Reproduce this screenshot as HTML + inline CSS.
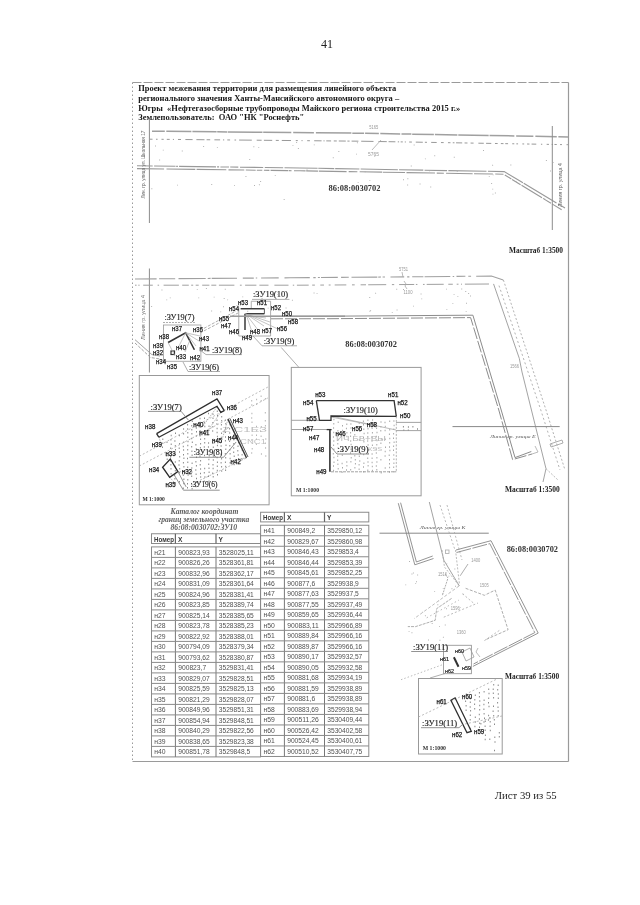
<!DOCTYPE html>
<html><head><meta charset="utf-8"><style>
html,body{margin:0;padding:0;background:#fff;}
body{width:640px;height:905px;overflow:hidden;position:relative;}
svg{position:absolute;left:0;top:0;will-change:transform;}
</style></head><body>
<svg width="640" height="905" viewBox="0 0 640 905">
<rect x="0" y="0" width="640" height="905" fill="#fff"/>
<text x="327" y="48" font-family="Liberation Serif" font-size="12" font-weight="normal" font-style="normal" fill="#222" text-anchor="middle" xml:space="preserve" >41</text>
<text x="494.8" y="799.3" font-family="Liberation Serif" font-size="11" font-weight="normal" font-style="normal" fill="#222" text-anchor="start" textLength="61.8" lengthAdjust="spacingAndGlyphs" xml:space="preserve" >Лист 39 из 55</text>
<line x1="132.5" y1="82.5" x2="568.5" y2="82.5" stroke="#9a9a9a" stroke-width="1" stroke-dasharray="9,2" />
<line x1="132.5" y1="82.5" x2="132.5" y2="761.5" stroke="#9a9a9a" stroke-width="1" stroke-dasharray="1.5,2.5" />
<line x1="568.5" y1="82.5" x2="568.5" y2="761.5" stroke="#9a9a9a" stroke-width="1.2" />
<line x1="132.5" y1="761.5" x2="568.5" y2="761.5" stroke="#9a9a9a" stroke-width="1.2" />
<text x="138.2" y="91.4" font-family="Liberation Serif" font-size="9" font-weight="bold" font-style="normal" fill="#161616" text-anchor="start" textLength="258" lengthAdjust="spacingAndGlyphs" xml:space="preserve" >Проект межевания территории для размещения линейного объекта</text>
<text x="138.2" y="101.0" font-family="Liberation Serif" font-size="9" font-weight="bold" font-style="normal" fill="#161616" text-anchor="start" textLength="261" lengthAdjust="spacingAndGlyphs" xml:space="preserve" >регионального значения Ханты-Мансийского автономного округа –</text>
<text x="138.2" y="110.6" font-family="Liberation Serif" font-size="9" font-weight="bold" font-style="normal" fill="#161616" text-anchor="start" textLength="322" lengthAdjust="spacingAndGlyphs" xml:space="preserve" >Югры  «Нефтегазосборные трубопроводы Майского региона строительства 2015 г.»</text>
<text x="138.2" y="120.2" font-family="Liberation Serif" font-size="9" font-weight="bold" font-style="normal" fill="#161616" text-anchor="start" textLength="166" lengthAdjust="spacingAndGlyphs" xml:space="preserve" >Землепользователь:  ОАО &quot;НК &quot;Роснефть&quot;</text>
<line x1="149.4" y1="119" x2="149.4" y2="223" stroke="#8c8c8c" stroke-width="1" />
<polyline points="152.00,131.20 360.00,133.20 568.00,136.90" fill="none" stroke="#a0a0a0" stroke-width="1.5" stroke-dasharray="12.8,1.5,25.1,1.0,24.2,0.6,10.2,0.6,34.5,0.7,28.1,1.9,20.7,2.0,35.5,0.9,11.8,1.0,13.8,1.4,19.9,1.3,9.9,0.8,21.7,1.0,22.5,0.9,30.4,0.9,24.8,1.8,17.2,2.0,21.4,1.6,23.6,0.6" stroke-linejoin="miter" />
<polyline points="150.00,139.20 360.00,141.20 568.00,144.70" fill="none" stroke="#999" stroke-width="1" stroke-dasharray="2.5,3.5,1.6,3.9,2.2,3.1,2.9,3.2,1.1,4.0,3.0,4.4,7.2,3.8,8.1,2.1,3.6,4.2,5.7,2.9,1.2,3.1,2.8,4.4,1.6,3.0,12.7,4.9,4.9,2.3,8.3,3.6,3.0,3.0,9.2,4.8,2.0,3.7,1.1,4.6,2.7,4.3,7.4,1.9,1.1,1.7,4.8,2.7,3.0,2.0,7.0,1.6,2.2,2.0,6.8,2.8,12.3,5.0,8.3,1.8,6.8,2.4,1.3,1.6,2.1,2.0,1.1,3.3,2.7,3.9,7.0,2.1,2.1,4.2,5.5,4.3,2.7,4.3,2.5,2.3,1.7,1.6,6.1,2.4,2.9,3.1,3.0,4.8,5.4,2.3,5.2,3.7,2.7,3.2,2.6,1.8,2.8,4.2,2.0,2.1,1.7,4.3,1.8,2.9,2.4,2.1,4.7,4.7,1.3,4.4,2.3,2.7,1.3,1.5,2.3,3.3,1.9,4.6,1.4,2.4" stroke-linejoin="miter" />
<polyline points="137.00,165.80 300.00,168.00 504.20,171.60 565.00,208.00" fill="none" stroke="#999" stroke-width="1.1" stroke-dasharray="15.7,1.4,21.4,0.7,1.7,1.2,36.9,1.1,2.0,1.3,8.6,1.2,8.1,1.7,23.2,1.6,18.4,1.3,33.1,0.7,16.0,0.9,24.2,1.3,37.2,1.2,24.2,1.3,22.5,1.3,38.1,1.5,38.1,0.9,38.2,1.8,11.9,1.2,15.7,0.6,33.1,1.8,30.9,1.5" stroke-linejoin="miter" />
<polyline points="137.00,168.60 300.00,170.80 503.50,174.20 562.00,210.00" fill="none" stroke="#999" stroke-width="1.1" stroke-dasharray="27.1,2.4,28.8,1.3,29.7,2.2,15.8,1.5,9.9,1.1,5.5,1.6,5.5,1.2,17.8,0.6,2.6,2.4,11.6,0.6,11.8,0.8,27.8,2.1,8.7,2.3,22.5,0.7,22.2,1.4,28.5,1.8,7.1,2.2,26.6,1.4,18.8,2.4,8.2,1.6,7.7,0.8,10.0,1.1,24.0,1.1,9.4,1.2,11.3,0.5,18.8,0.9,28.4,0.7,15.8,1.5" stroke-linejoin="miter" />
<line x1="552.3" y1="126" x2="552.3" y2="230" stroke="#8c8c8c" stroke-width="1" />
<text x="0" y="0" font-family="Liberation Sans" font-size="5" font-weight="normal" font-style="normal" fill="#6a6a6a" text-anchor="start" textLength="68" lengthAdjust="spacingAndGlyphs" xml:space="preserve" transform="translate(145,198.6) rotate(-90)">Лин. гр. улица ул. Школьная 17</text>
<text x="0" y="0" font-family="Liberation Sans" font-size="5" font-weight="normal" font-style="normal" fill="#6a6a6a" text-anchor="start" textLength="44" lengthAdjust="spacingAndGlyphs" xml:space="preserve" transform="translate(561.5,207) rotate(-90)">Линия гр. улица 4</text>
<text x="369.3" y="128.5" font-family="Liberation Sans" font-size="5" font-weight="normal" font-style="normal" fill="#999" text-anchor="start" textLength="9" lengthAdjust="spacingAndGlyphs" xml:space="preserve" >5165</text>
<text x="368" y="156" font-family="Liberation Sans" font-size="5" font-weight="normal" font-style="normal" fill="#999" text-anchor="start" textLength="11" lengthAdjust="spacingAndGlyphs" xml:space="preserve" >5765</text>
<line x1="372" y1="150" x2="381" y2="140" stroke="#aaa" stroke-width="0.8" />
<text x="328.5" y="191" font-family="Liberation Serif" font-size="8.5" font-weight="bold" font-style="normal" fill="#333" text-anchor="start" textLength="52" lengthAdjust="spacingAndGlyphs" xml:space="preserve" >86:08:0030702</text>
<text x="509" y="252.9" font-family="Liberation Serif" font-size="8" font-weight="bold" font-style="normal" fill="#222" text-anchor="start" textLength="54" lengthAdjust="spacingAndGlyphs" xml:space="preserve" >Масштаб 1:3500</text>
<path d="M492.2 164.8h0.9v0.9h-0.9z M357.7 181.9h0.9v0.9h-0.9z M552.8 161.9h0.9v0.9h-0.9z M491.2 183.0h0.9v0.9h-0.9z M410.8 165.5h0.9v0.9h-0.9z M292.5 145.2h0.9v0.9h-0.9z M203.2 146.1h0.9v0.9h-0.9z M453.8 156.8h0.9v0.9h-0.9z M216.9 146.9h0.9v0.9h-0.9z M494.9 192.5h0.9v0.9h-0.9z M424.9 158.4h0.9v0.9h-0.9z M249.3 159.0h0.9v0.9h-0.9z M338.4 151.1h0.9v0.9h-0.9z M332.8 157.3h0.9v0.9h-0.9z M544.3 198.4h0.9v0.9h-0.9z M374.3 156.2h0.9v0.9h-0.9z M545.9 160.0h0.9v0.9h-0.9z M296.2 142.1h0.9v0.9h-0.9z M306.5 169.5h0.9v0.9h-0.9z M356.1 153.7h0.9v0.9h-0.9z M356.9 142.3h0.9v0.9h-0.9z M258.3 147.2h0.9v0.9h-0.9z M313.8 144.4h0.9v0.9h-0.9z M159.2 159.6h0.9v0.9h-0.9z M245.5 176.0h0.9v0.9h-0.9z M367.0 185.5h0.9v0.9h-0.9z M419.6 183.5h0.9v0.9h-0.9z M510.4 164.6h0.9v0.9h-0.9z M283.7 199.1h0.9v0.9h-0.9z M211.3 184.0h0.9v0.9h-0.9z M413.7 144.5h0.9v0.9h-0.9z M492.5 193.7h0.9v0.9h-0.9z M407.2 184.6h0.9v0.9h-0.9z M483.0 150.1h0.9v0.9h-0.9z M364.7 171.3h0.9v0.9h-0.9z M492.3 188.7h0.9v0.9h-0.9z M488.8 175.9h0.9v0.9h-0.9z M516.1 181.6h0.9v0.9h-0.9z M434.3 155.3h0.9v0.9h-0.9z M162.8 149.7h0.9v0.9h-0.9z M297.9 148.1h0.9v0.9h-0.9z M492.7 174.4h0.9v0.9h-0.9z M407.4 178.3h0.9v0.9h-0.9z M429.1 170.4h0.9v0.9h-0.9z M151.4 188.3h0.9v0.9h-0.9z M456.8 171.2h0.9v0.9h-0.9z M369.4 180.2h0.9v0.9h-0.9z M177.1 184.7h0.9v0.9h-0.9z M253.4 146.3h0.9v0.9h-0.9z M258.9 184.3h0.9v0.9h-0.9z M234.1 184.9h0.9v0.9h-0.9z M550.1 170.6h0.9v0.9h-0.9z M306.8 169.8h0.9v0.9h-0.9z M430.3 186.5h0.9v0.9h-0.9z M403.0 179.3h0.9v0.9h-0.9z M181.8 150.6h0.9v0.9h-0.9z M254.1 185.1h0.9v0.9h-0.9z M274.8 174.9h0.9v0.9h-0.9z M155.1 145.5h0.9v0.9h-0.9z M260.2 181.0h0.9v0.9h-0.9z" fill="#aaa"/>
<line x1="149.4" y1="268.5" x2="149.4" y2="372.5" stroke="#8c8c8c" stroke-width="1" />
<polyline points="135.00,279.00 290.00,277.80 450.00,276.50 491.40,276.00 503.40,280.00" fill="none" stroke="#a0a0a0" stroke-width="1.1" stroke-dasharray="21.6,2.5,16.1,3.3,27.2,2.0,2.9,1.1,25.3,5.8,11.0,2.0,1.4,3.9,17.6,5.8,25.3,3.5,2.4,2.2,2.0,1.1,16.8,3.3,7.7,2.7,25.8,1.0,2.7,1.6,2.4,5.5,13.7,3.0,2.2,2.8,11.2,1.2,25.7,2.4,1.5,2.3,8.9,2.9,2.8,5.1,27.7,5.7,22.7,1.2,1.9,4.8" stroke-linejoin="miter" />
<polyline points="503.40,280.00 546.00,410.00 565.00,470.00" fill="none" stroke="#aaa" stroke-width="0.9" stroke-dasharray="2,2" stroke-linejoin="miter" />
<polyline points="135.00,285.20 300.00,285.20 490.00,284.00 493.60,284.00" fill="none" stroke="#a0a0a0" stroke-width="1" stroke-dasharray="1.6,1.7,1.3,3.6,9.6,4.8,1.5,4.5,15.3,3.3,6.6,2.4,2.0,2.5,3.0,3.5,7.2,1.9,5.0,2.6,15.5,5.5,1.8,3.4,11.3,3.0,9.1,5.9,14.1,4.3,1.4,2.7,11.8,3.5,2.7,5.4,3.7,4.7,1.9,4.1,11.6,5.7,2.7,5.9,5.4,2.2,18.0,5.7,2.3,4.9,15.1,1.7,1.5,5.6,1.6,2.1,17.0,4.6,4.5,3.9,1.8,2.5,1.0,2.9,24.1,4.4,2.0,2.6,24.1,4.7,3.5,3.7,1.8,2.7" stroke-linejoin="miter" />
<polyline points="493.60,284.00 519.30,358.40 522.00,372.00 546.00,468.70 543.00,482.00" fill="none" stroke="#999" stroke-width="0.9" stroke-linejoin="miter" />
<polyline points="499.00,285.60 540.80,410.00 560.00,470.00" fill="none" stroke="#aaa" stroke-width="0.9" stroke-dasharray="2,2.5" stroke-linejoin="miter" />
<polyline points="271.00,316.30 330.00,316.20 472.90,315.20 501.20,410.00 515.00,457.60 531.30,451.50" fill="none" stroke="#8c8c8c" stroke-width="1" stroke-linejoin="miter" />
<polyline points="271.00,318.80 330.00,318.70 470.60,317.60 498.80,410.00 512.60,459.60 532.00,454.00" fill="none" stroke="#8c8c8c" stroke-width="1" stroke-dasharray="12,2" stroke-linejoin="miter" />
<line x1="452.5" y1="426.6" x2="559.7" y2="426.6" stroke="#888" stroke-width="1" />
<polygon points="550.00,444.00 562.00,440.00 563.00,443.00 551.00,447.00" fill="none" stroke="#999" stroke-width="0.8" stroke-linejoin="miter" />
<polyline points="535.00,446.00 538.00,452.00 532.00,454.00" fill="none" stroke="#aaa" stroke-width="0.8" stroke-linejoin="miter" />
<polyline points="546.00,468.70 558.00,480.00" fill="none" stroke="#aaa" stroke-width="0.8" stroke-dasharray="2,1.5" stroke-linejoin="miter" />
<text x="490" y="438" font-family="Liberation Serif" font-size="5" font-weight="normal" font-style="italic" fill="#555" text-anchor="start" textLength="45.6" lengthAdjust="spacingAndGlyphs" xml:space="preserve" >Линия гр. улицы Е</text>
<text x="510" y="368" font-family="Liberation Sans" font-size="4.5" font-weight="normal" font-style="normal" fill="#999" text-anchor="start" textLength="9" lengthAdjust="spacingAndGlyphs" xml:space="preserve" >1566</text>
<text x="399" y="271" font-family="Liberation Sans" font-size="4.5" font-weight="normal" font-style="normal" fill="#999" text-anchor="start" textLength="9" lengthAdjust="spacingAndGlyphs" xml:space="preserve" >5751</text>
<text x="403.5" y="294" font-family="Liberation Sans" font-size="4.5" font-weight="normal" font-style="normal" fill="#999" text-anchor="start" textLength="9" lengthAdjust="spacingAndGlyphs" xml:space="preserve" >1100</text>
<line x1="402" y1="272" x2="403" y2="277" stroke="#aaa" stroke-width="0.8" />
<polyline points="404.00,281.00 406.00,284.00 405.00,286.00 407.00,289.00" fill="none" stroke="#aaa" stroke-width="0.8" stroke-linejoin="miter" />
<text x="345.3" y="347" font-family="Liberation Serif" font-size="8.5" font-weight="bold" font-style="normal" fill="#333" text-anchor="start" textLength="51.6" lengthAdjust="spacingAndGlyphs" xml:space="preserve" >86:08:0030702</text>
<text x="505" y="492" font-family="Liberation Serif" font-size="8" font-weight="bold" font-style="normal" fill="#222" text-anchor="start" textLength="54.7" lengthAdjust="spacingAndGlyphs" xml:space="preserve" >Масштаб 1:3500</text>
<text x="0" y="0" font-family="Liberation Sans" font-size="5" font-weight="normal" font-style="normal" fill="#6a6a6a" text-anchor="start" textLength="45" lengthAdjust="spacingAndGlyphs" xml:space="preserve" transform="translate(145,340) rotate(-90)">Линия гр. улица 4</text>
<polyline points="135.00,339.70 151.90,354.60 160.00,356.00" fill="none" stroke="#999" stroke-width="0.9" stroke-linejoin="miter" />
<polyline points="135.00,343.00 150.50,357.50 160.00,359.00" fill="none" stroke="#999" stroke-width="0.9" stroke-dasharray="3,1.5" stroke-linejoin="miter" />
<rect x="163.4" y="325" width="37.5" height="36.25" fill="none" stroke="#999" stroke-width="0.8"/>
<text x="164.4" y="320.25" font-family="Liberation Serif" font-size="8.3" font-weight="normal" font-style="normal" fill="#222" text-anchor="start" textLength="30" lengthAdjust="spacingAndGlyphs" stroke="#222" stroke-width="0.15" xml:space="preserve" >:ЗУ19(7)</text>
<line x1="163" y1="322.5" x2="195" y2="322.5" stroke="#999" stroke-width="0.8" stroke-dasharray="2,1" />
<polyline points="168.10,342.50 185.60,332.75 194.40,349.75" fill="none" stroke="#333" stroke-width="1.6" stroke-linejoin="miter" />
<rect x="171" y="351" width="3.5" height="3.5" fill="none" stroke="#333" stroke-width="1.2"/>
<line x1="185.6" y1="332.75" x2="199" y2="341" stroke="#aaa" stroke-width="0.7" />
<line x1="185.6" y1="332.75" x2="200" y2="336" stroke="#aaa" stroke-width="0.7" />
<line x1="185.6" y1="332.75" x2="178" y2="348" stroke="#aaa" stroke-width="0.7" />
<line x1="185.6" y1="332.75" x2="196" y2="346" stroke="#aaa" stroke-width="0.7" />
<line x1="168.1" y1="342.5" x2="175" y2="356" stroke="#aaa" stroke-width="0.7" />
<line x1="190" y1="340" x2="185" y2="352" stroke="#aaa" stroke-width="0.7" />
<text x="172" y="330.5" font-family="Liberation Sans" font-size="6.6" font-weight="normal" font-style="normal" fill="#161616" text-anchor="start" textLength="10" lengthAdjust="spacingAndGlyphs" stroke="#161616" stroke-width="0.25" xml:space="preserve" >н37</text>
<text x="193" y="332" font-family="Liberation Sans" font-size="6.6" font-weight="normal" font-style="normal" fill="#161616" text-anchor="start" textLength="10" lengthAdjust="spacingAndGlyphs" stroke="#161616" stroke-width="0.25" xml:space="preserve" >н36</text>
<text x="159" y="339" font-family="Liberation Sans" font-size="6.6" font-weight="normal" font-style="normal" fill="#161616" text-anchor="start" textLength="10" lengthAdjust="spacingAndGlyphs" stroke="#161616" stroke-width="0.25" xml:space="preserve" >н38</text>
<text x="199" y="341" font-family="Liberation Sans" font-size="6.6" font-weight="normal" font-style="normal" fill="#161616" text-anchor="start" textLength="10" lengthAdjust="spacingAndGlyphs" stroke="#161616" stroke-width="0.25" xml:space="preserve" >н43</text>
<text x="176" y="350" font-family="Liberation Sans" font-size="6.6" font-weight="normal" font-style="normal" fill="#161616" text-anchor="start" textLength="10" lengthAdjust="spacingAndGlyphs" stroke="#161616" stroke-width="0.25" xml:space="preserve" >н40</text>
<text x="199.5" y="351" font-family="Liberation Sans" font-size="6.6" font-weight="normal" font-style="normal" fill="#161616" text-anchor="start" textLength="10" lengthAdjust="spacingAndGlyphs" stroke="#161616" stroke-width="0.25" xml:space="preserve" >н41</text>
<text x="153" y="348" font-family="Liberation Sans" font-size="6.6" font-weight="normal" font-style="normal" fill="#161616" text-anchor="start" textLength="10" lengthAdjust="spacingAndGlyphs" stroke="#161616" stroke-width="0.25" xml:space="preserve" >н39</text>
<text x="153" y="355" font-family="Liberation Sans" font-size="6.6" font-weight="normal" font-style="normal" fill="#161616" text-anchor="start" textLength="10" lengthAdjust="spacingAndGlyphs" stroke="#161616" stroke-width="0.25" xml:space="preserve" >н32</text>
<text x="176" y="359" font-family="Liberation Sans" font-size="6.6" font-weight="normal" font-style="normal" fill="#161616" text-anchor="start" textLength="10" lengthAdjust="spacingAndGlyphs" stroke="#161616" stroke-width="0.25" xml:space="preserve" >н33</text>
<text x="156" y="363.5" font-family="Liberation Sans" font-size="6.6" font-weight="normal" font-style="normal" fill="#161616" text-anchor="start" textLength="10" lengthAdjust="spacingAndGlyphs" stroke="#161616" stroke-width="0.25" xml:space="preserve" >н34</text>
<text x="190" y="359.5" font-family="Liberation Sans" font-size="6.6" font-weight="normal" font-style="normal" fill="#161616" text-anchor="start" textLength="10" lengthAdjust="spacingAndGlyphs" stroke="#161616" stroke-width="0.25" xml:space="preserve" >н42</text>
<text x="167" y="369" font-family="Liberation Sans" font-size="6.6" font-weight="normal" font-style="normal" fill="#161616" text-anchor="start" textLength="10" lengthAdjust="spacingAndGlyphs" stroke="#161616" stroke-width="0.25" xml:space="preserve" >н35</text>
<text x="189" y="370" font-family="Liberation Serif" font-size="8.3" font-weight="normal" font-style="normal" fill="#222" text-anchor="start" textLength="30" lengthAdjust="spacingAndGlyphs" stroke="#222" stroke-width="0.15" xml:space="preserve" >:ЗУ19(6)</text>
<polyline points="183.00,362.00 188.00,371.50 220.00,371.50" fill="none" stroke="#999" stroke-width="0.8" stroke-linejoin="miter" />
<polyline points="200.00,350.00 206.00,354.60 242.00,354.60" fill="none" stroke="#999" stroke-width="0.8" stroke-linejoin="miter" />
<text x="212" y="353" font-family="Liberation Serif" font-size="8.3" font-weight="normal" font-style="normal" fill="#222" text-anchor="start" textLength="30" lengthAdjust="spacingAndGlyphs" stroke="#222" stroke-width="0.15" xml:space="preserve" >:ЗУ19(8)</text>
<text x="253" y="297.1" font-family="Liberation Serif" font-size="8.3" font-weight="normal" font-style="normal" fill="#222" text-anchor="start" textLength="35" lengthAdjust="spacingAndGlyphs" stroke="#222" stroke-width="0.15" xml:space="preserve" >:ЗУ19(10)</text>
<line x1="252" y1="299.4" x2="289.4" y2="299.4" stroke="#999" stroke-width="0.8" />
<polyline points="251.25,301.25 270.60,301.25 270.60,336.00 238.75,336.00 238.75,307.50" fill="none" stroke="#999" stroke-width="0.8" stroke-linejoin="miter" />
<line x1="251.25" y1="301.25" x2="251.25" y2="308" stroke="#999" stroke-width="0.8" />
<line x1="240.6" y1="308.75" x2="264.4" y2="308.75" stroke="#333" stroke-width="1.4" />
<line x1="245.6" y1="313.75" x2="264.4" y2="313.75" stroke="#333" stroke-width="1.4" />
<line x1="264.4" y1="308.75" x2="264.4" y2="313.75" stroke="#333" stroke-width="0.8" />
<line x1="245" y1="313.75" x2="245" y2="330" stroke="#444" stroke-width="1.6" />
<line x1="246" y1="314" x2="264" y2="326" stroke="#aaa" stroke-width="0.7" />
<line x1="246" y1="314" x2="258" y2="330" stroke="#aaa" stroke-width="0.7" />
<line x1="246" y1="314" x2="270" y2="322" stroke="#aaa" stroke-width="0.7" />
<line x1="246" y1="314" x2="252" y2="332" stroke="#aaa" stroke-width="0.7" />
<line x1="250" y1="316" x2="266" y2="318" stroke="#aaa" stroke-width="0.7" />
<line x1="246" y1="314" x2="280" y2="330" stroke="#aaa" stroke-width="0.7" />
<line x1="230" y1="316.25" x2="345" y2="316.25" stroke="#9a9a9a" stroke-width="1.6" />
<polyline points="200.00,333.00 238.00,313.00" fill="none" stroke="#999" stroke-width="0.8" stroke-dasharray="3,1.5" stroke-linejoin="miter" />
<polyline points="200.00,330.50 236.00,311.00" fill="none" stroke="#999" stroke-width="0.8" stroke-dasharray="3,1.5" stroke-linejoin="miter" />
<text x="238" y="305" font-family="Liberation Sans" font-size="6.6" font-weight="normal" font-style="normal" fill="#161616" text-anchor="start" textLength="10" lengthAdjust="spacingAndGlyphs" stroke="#161616" stroke-width="0.25" xml:space="preserve" >н53</text>
<text x="257" y="305" font-family="Liberation Sans" font-size="6.6" font-weight="normal" font-style="normal" fill="#161616" text-anchor="start" textLength="10" lengthAdjust="spacingAndGlyphs" stroke="#161616" stroke-width="0.25" xml:space="preserve" >н51</text>
<text x="229" y="311" font-family="Liberation Sans" font-size="6.6" font-weight="normal" font-style="normal" fill="#161616" text-anchor="start" textLength="10" lengthAdjust="spacingAndGlyphs" stroke="#161616" stroke-width="0.25" xml:space="preserve" >н54</text>
<text x="271" y="310" font-family="Liberation Sans" font-size="6.6" font-weight="normal" font-style="normal" fill="#161616" text-anchor="start" textLength="10" lengthAdjust="spacingAndGlyphs" stroke="#161616" stroke-width="0.25" xml:space="preserve" >н52</text>
<text x="219" y="321" font-family="Liberation Sans" font-size="6.6" font-weight="normal" font-style="normal" fill="#161616" text-anchor="start" textLength="10" lengthAdjust="spacingAndGlyphs" stroke="#161616" stroke-width="0.25" xml:space="preserve" >н55</text>
<text x="221" y="327.5" font-family="Liberation Sans" font-size="6.6" font-weight="normal" font-style="normal" fill="#161616" text-anchor="start" textLength="10" lengthAdjust="spacingAndGlyphs" stroke="#161616" stroke-width="0.25" xml:space="preserve" >н47</text>
<text x="229" y="334" font-family="Liberation Sans" font-size="6.6" font-weight="normal" font-style="normal" fill="#161616" text-anchor="start" textLength="10" lengthAdjust="spacingAndGlyphs" stroke="#161616" stroke-width="0.25" xml:space="preserve" >н46</text>
<text x="250" y="334" font-family="Liberation Sans" font-size="6.6" font-weight="normal" font-style="normal" fill="#161616" text-anchor="start" textLength="10" lengthAdjust="spacingAndGlyphs" stroke="#161616" stroke-width="0.25" xml:space="preserve" >н48</text>
<text x="262" y="333" font-family="Liberation Sans" font-size="6.6" font-weight="normal" font-style="normal" fill="#161616" text-anchor="start" textLength="10" lengthAdjust="spacingAndGlyphs" stroke="#161616" stroke-width="0.25" xml:space="preserve" >н57</text>
<text x="242" y="339.5" font-family="Liberation Sans" font-size="6.6" font-weight="normal" font-style="normal" fill="#161616" text-anchor="start" textLength="10" lengthAdjust="spacingAndGlyphs" stroke="#161616" stroke-width="0.25" xml:space="preserve" >н49</text>
<text x="282" y="315.8" font-family="Liberation Sans" font-size="6.6" font-weight="normal" font-style="normal" fill="#161616" text-anchor="start" textLength="10" lengthAdjust="spacingAndGlyphs" stroke="#161616" stroke-width="0.25" xml:space="preserve" >н50</text>
<text x="288" y="324" font-family="Liberation Sans" font-size="6.6" font-weight="normal" font-style="normal" fill="#161616" text-anchor="start" textLength="10" lengthAdjust="spacingAndGlyphs" stroke="#161616" stroke-width="0.25" xml:space="preserve" >н58</text>
<text x="277" y="330.8" font-family="Liberation Sans" font-size="6.6" font-weight="normal" font-style="normal" fill="#161616" text-anchor="start" textLength="10" lengthAdjust="spacingAndGlyphs" stroke="#161616" stroke-width="0.25" xml:space="preserve" >н56</text>
<text x="263.75" y="343.5" font-family="Liberation Serif" font-size="8.3" font-weight="normal" font-style="normal" fill="#222" text-anchor="start" textLength="30.6" lengthAdjust="spacingAndGlyphs" stroke="#222" stroke-width="0.15" xml:space="preserve" >:ЗУ19(9)</text>
<polyline points="253.00,336.00 262.00,345.80 297.00,345.80" fill="none" stroke="#999" stroke-width="0.8" stroke-linejoin="miter" />
<line x1="281.25" y1="347.5" x2="299" y2="367.5" stroke="#999" stroke-width="0.8" />
<path d="M370.2 310.2h0.9v0.9h-0.9z M224.8 288.8h0.9v0.9h-0.9z M261.6 298.1h0.9v0.9h-0.9z M375.2 292.8h0.9v0.9h-0.9z M413.0 305.7h0.9v0.9h-0.9z M316.6 292.9h0.9v0.9h-0.9z M470.1 295.5h0.9v0.9h-0.9z M420.6 293.5h0.9v0.9h-0.9z M223.1 306.3h0.9v0.9h-0.9z M247.3 310.8h0.9v0.9h-0.9z M313.6 292.5h0.9v0.9h-0.9z M223.7 298.0h0.9v0.9h-0.9z M369.5 310.8h0.9v0.9h-0.9z M198.3 297.4h0.9v0.9h-0.9z M220.3 311.4h0.9v0.9h-0.9z M196.8 289.2h0.9v0.9h-0.9z M169.8 297.4h0.9v0.9h-0.9z M446.4 309.2h0.9v0.9h-0.9z M391.8 311.9h0.9v0.9h-0.9z M457.4 295.9h0.9v0.9h-0.9z M211.2 310.5h0.9v0.9h-0.9z M396.3 288.8h0.9v0.9h-0.9z M369.3 297.1h0.9v0.9h-0.9z M273.4 296.0h0.9v0.9h-0.9z M205.9 288.1h0.9v0.9h-0.9z M242.3 296.4h0.9v0.9h-0.9z M465.3 291.0h0.9v0.9h-0.9z M468.2 293.0h0.9v0.9h-0.9z M267.7 307.7h0.9v0.9h-0.9z M421.3 298.4h0.9v0.9h-0.9z M166.3 299.4h0.9v0.9h-0.9z M273.0 310.1h0.9v0.9h-0.9z M213.7 296.7h0.9v0.9h-0.9z M446.0 288.7h0.9v0.9h-0.9z M285.6 307.5h0.9v0.9h-0.9z M403.0 289.0h0.9v0.9h-0.9z M161.5 289.5h0.9v0.9h-0.9z M453.6 294.2h0.9v0.9h-0.9z M396.6 309.6h0.9v0.9h-0.9z M261.9 294.5h0.9v0.9h-0.9z M466.0 302.8h0.9v0.9h-0.9z M236.5 305.2h0.9v0.9h-0.9z M254.4 294.6h0.9v0.9h-0.9z M151.2 306.1h0.9v0.9h-0.9z M452.4 303.2h0.9v0.9h-0.9z M461.3 288.6h0.9v0.9h-0.9z M227.2 299.4h0.9v0.9h-0.9z M465.7 310.9h0.9v0.9h-0.9z M277.5 294.0h0.9v0.9h-0.9z M291.9 299.8h0.9v0.9h-0.9z" fill="#aaa"/>
<rect x="139.3" y="375.5" width="129.8" height="129.3" fill="none" stroke="#999" stroke-width="1"/>
<path d="M162.3 438.4h1.0v1.5h-1.0z M162.3 442.5h1.0v1.5h-1.0z M162.0 446.5h1.0v1.5h-1.0z M166.5 441.6h1.0v1.5h-1.0z M166.2 454.8h1.0v1.5h-1.0z M166.7 458.4h1.0v1.5h-1.0z M170.7 434.7h1.0v1.5h-1.0z M170.4 439.0h1.0v1.5h-1.0z M170.7 443.4h1.0v1.5h-1.0z M170.2 447.6h1.0v1.5h-1.0z M170.6 451.4h1.0v1.5h-1.0z M170.3 455.5h1.0v1.5h-1.0z M170.2 460.2h1.0v1.5h-1.0z M170.4 464.0h1.0v1.5h-1.0z M170.5 468.1h1.0v1.5h-1.0z M170.6 472.9h1.0v1.5h-1.0z M175.0 432.4h1.0v1.5h-1.0z M174.4 440.2h1.0v1.5h-1.0z M174.8 445.0h1.0v1.5h-1.0z M175.0 448.9h1.0v1.5h-1.0z M174.9 453.5h1.0v1.5h-1.0z M174.8 461.3h1.0v1.5h-1.0z M174.4 465.5h1.0v1.5h-1.0z M174.8 470.0h1.0v1.5h-1.0z M174.3 474.0h1.0v1.5h-1.0z M174.4 478.1h1.0v1.5h-1.0z M174.9 482.5h1.0v1.5h-1.0z M178.9 434.7h1.0v1.5h-1.0z M179.1 442.9h1.0v1.5h-1.0z M178.7 447.5h1.0v1.5h-1.0z M179.0 451.3h1.0v1.5h-1.0z M179.2 456.0h1.0v1.5h-1.0z M178.7 459.9h1.0v1.5h-1.0z M178.5 464.3h1.0v1.5h-1.0z M179.2 468.1h1.0v1.5h-1.0z M178.9 472.1h1.0v1.5h-1.0z M179.0 481.1h1.0v1.5h-1.0z M183.1 428.2h1.0v1.5h-1.0z M183.1 433.1h1.0v1.5h-1.0z M183.3 441.5h1.0v1.5h-1.0z M182.8 445.7h1.0v1.5h-1.0z M183.1 449.2h1.0v1.5h-1.0z M183.0 454.0h1.0v1.5h-1.0z M183.4 457.6h1.0v1.5h-1.0z M182.9 462.0h1.0v1.5h-1.0z M183.4 466.1h1.0v1.5h-1.0z M183.0 470.5h1.0v1.5h-1.0z M182.8 474.5h1.0v1.5h-1.0z M183.4 478.5h1.0v1.5h-1.0z M183.3 482.7h1.0v1.5h-1.0z M182.8 487.4h1.0v1.5h-1.0z M187.1 423.9h1.0v1.5h-1.0z M187.2 428.3h1.0v1.5h-1.0z M187.3 432.0h1.0v1.5h-1.0z M187.3 436.4h1.0v1.5h-1.0z M187.5 440.8h1.0v1.5h-1.0z M187.3 444.7h1.0v1.5h-1.0z M187.2 448.9h1.0v1.5h-1.0z M187.3 453.0h1.0v1.5h-1.0z M187.0 457.8h1.0v1.5h-1.0z M187.3 461.5h1.0v1.5h-1.0z M187.2 466.4h1.0v1.5h-1.0z M187.6 470.6h1.0v1.5h-1.0z M187.6 474.2h1.0v1.5h-1.0z M187.3 479.0h1.0v1.5h-1.0z M187.0 483.0h1.0v1.5h-1.0z M187.0 486.9h1.0v1.5h-1.0z M191.8 420.5h1.0v1.5h-1.0z M191.2 424.9h1.0v1.5h-1.0z M191.3 428.9h1.0v1.5h-1.0z M191.4 432.9h1.0v1.5h-1.0z M191.2 437.8h1.0v1.5h-1.0z M191.8 441.4h1.0v1.5h-1.0z M191.2 445.9h1.0v1.5h-1.0z M191.4 450.4h1.0v1.5h-1.0z M191.6 454.6h1.0v1.5h-1.0z M191.6 462.6h1.0v1.5h-1.0z M191.3 467.3h1.0v1.5h-1.0z M191.4 471.3h1.0v1.5h-1.0z M191.2 475.5h1.0v1.5h-1.0z M191.3 483.8h1.0v1.5h-1.0z M191.6 488.0h1.0v1.5h-1.0z M195.8 427.2h1.0v1.5h-1.0z M196.0 431.1h1.0v1.5h-1.0z M195.8 435.2h1.0v1.5h-1.0z M195.4 443.9h1.0v1.5h-1.0z M195.8 448.3h1.0v1.5h-1.0z M195.8 452.4h1.0v1.5h-1.0z M196.0 456.4h1.0v1.5h-1.0z M195.4 460.9h1.0v1.5h-1.0z M195.9 464.9h1.0v1.5h-1.0z M195.3 469.3h1.0v1.5h-1.0z M195.6 473.5h1.0v1.5h-1.0z M196.0 477.8h1.0v1.5h-1.0z M196.0 481.4h1.0v1.5h-1.0z M195.6 485.8h1.0v1.5h-1.0z M199.5 417.8h1.0v1.5h-1.0z M199.6 421.7h1.0v1.5h-1.0z M199.9 426.3h1.0v1.5h-1.0z M199.6 430.2h1.0v1.5h-1.0z M199.5 434.9h1.0v1.5h-1.0z M200.1 438.4h1.0v1.5h-1.0z M200.1 442.9h1.0v1.5h-1.0z M199.9 446.9h1.0v1.5h-1.0z M199.5 455.4h1.0v1.5h-1.0z M200.1 460.0h1.0v1.5h-1.0z M199.7 464.0h1.0v1.5h-1.0z M200.1 468.2h1.0v1.5h-1.0z M200.0 472.7h1.0v1.5h-1.0z M200.2 476.2h1.0v1.5h-1.0z M199.7 480.9h1.0v1.5h-1.0z M204.0 417.6h1.0v1.5h-1.0z M203.9 421.8h1.0v1.5h-1.0z M204.3 425.8h1.0v1.5h-1.0z M204.1 430.1h1.0v1.5h-1.0z M204.4 434.0h1.0v1.5h-1.0z M204.2 438.1h1.0v1.5h-1.0z M204.2 442.1h1.0v1.5h-1.0z M203.8 446.3h1.0v1.5h-1.0z M204.0 454.8h1.0v1.5h-1.0z M204.2 467.8h1.0v1.5h-1.0z M203.8 471.9h1.0v1.5h-1.0z M204.4 476.3h1.0v1.5h-1.0z M203.8 480.6h1.0v1.5h-1.0z M208.0 412.7h1.0v1.5h-1.0z M208.5 425.6h1.0v1.5h-1.0z M208.4 429.6h1.0v1.5h-1.0z M208.1 442.2h1.0v1.5h-1.0z M207.9 446.3h1.0v1.5h-1.0z M208.5 450.6h1.0v1.5h-1.0z M208.7 454.9h1.0v1.5h-1.0z M208.4 458.8h1.0v1.5h-1.0z M208.2 463.6h1.0v1.5h-1.0z M208.5 467.6h1.0v1.5h-1.0z M208.6 471.4h1.0v1.5h-1.0z M208.0 475.5h1.0v1.5h-1.0z M208.5 480.5h1.0v1.5h-1.0z M212.5 413.6h1.0v1.5h-1.0z M212.5 417.4h1.0v1.5h-1.0z M212.3 422.1h1.0v1.5h-1.0z M212.3 426.1h1.0v1.5h-1.0z M212.2 430.2h1.0v1.5h-1.0z M212.7 438.7h1.0v1.5h-1.0z M212.4 442.6h1.0v1.5h-1.0z M212.8 446.6h1.0v1.5h-1.0z M212.1 450.9h1.0v1.5h-1.0z M212.8 455.3h1.0v1.5h-1.0z M212.8 459.3h1.0v1.5h-1.0z M212.5 463.9h1.0v1.5h-1.0z M212.6 467.8h1.0v1.5h-1.0z M212.2 472.4h1.0v1.5h-1.0z M212.7 476.1h1.0v1.5h-1.0z M216.8 410.6h1.0v1.5h-1.0z M217.0 414.9h1.0v1.5h-1.0z M216.5 419.5h1.0v1.5h-1.0z M216.4 423.3h1.0v1.5h-1.0z M216.6 427.8h1.0v1.5h-1.0z M216.6 431.7h1.0v1.5h-1.0z M216.9 435.8h1.0v1.5h-1.0z M216.4 440.3h1.0v1.5h-1.0z M216.9 444.7h1.0v1.5h-1.0z M216.5 448.9h1.0v1.5h-1.0z M216.6 456.8h1.0v1.5h-1.0z M216.9 461.5h1.0v1.5h-1.0z M216.8 465.5h1.0v1.5h-1.0z M216.8 469.7h1.0v1.5h-1.0z M217.0 473.9h1.0v1.5h-1.0z M220.8 411.3h1.0v1.5h-1.0z M221.2 415.9h1.0v1.5h-1.0z M221.2 420.1h1.0v1.5h-1.0z M220.9 424.0h1.0v1.5h-1.0z M220.6 428.2h1.0v1.5h-1.0z M221.1 432.6h1.0v1.5h-1.0z M220.8 436.7h1.0v1.5h-1.0z M220.8 441.1h1.0v1.5h-1.0z M220.6 445.2h1.0v1.5h-1.0z M220.8 449.3h1.0v1.5h-1.0z M220.5 453.5h1.0v1.5h-1.0z M221.1 458.1h1.0v1.5h-1.0z M220.6 462.0h1.0v1.5h-1.0z M221.1 466.1h1.0v1.5h-1.0z M221.2 470.3h1.0v1.5h-1.0z M224.9 419.4h1.0v1.5h-1.0z M225.3 423.1h1.0v1.5h-1.0z M225.0 427.3h1.0v1.5h-1.0z M225.0 431.4h1.0v1.5h-1.0z M225.0 436.2h1.0v1.5h-1.0z M224.9 440.0h1.0v1.5h-1.0z M225.5 444.4h1.0v1.5h-1.0z M225.3 448.5h1.0v1.5h-1.0z M224.8 453.0h1.0v1.5h-1.0z M225.2 457.0h1.0v1.5h-1.0z M224.9 461.6h1.0v1.5h-1.0z M225.2 465.7h1.0v1.5h-1.0z M225.1 469.5h1.0v1.5h-1.0z M229.6 423.9h1.0v1.5h-1.0z M229.1 428.1h1.0v1.5h-1.0z M229.2 432.2h1.0v1.5h-1.0z M229.1 440.6h1.0v1.5h-1.0z M229.3 444.9h1.0v1.5h-1.0z M229.4 449.1h1.0v1.5h-1.0z M229.6 453.0h1.0v1.5h-1.0z M229.6 457.8h1.0v1.5h-1.0z M229.6 461.9h1.0v1.5h-1.0z M233.6 434.1h1.0v1.5h-1.0z M233.3 443.0h1.0v1.5h-1.0z M233.2 447.3h1.0v1.5h-1.0z M233.2 451.5h1.0v1.5h-1.0z M233.7 455.5h1.0v1.5h-1.0z M233.7 459.8h1.0v1.5h-1.0z M233.7 463.8h1.0v1.5h-1.0z M238.0 441.7h1.0v1.5h-1.0z M237.5 445.5h1.0v1.5h-1.0z M237.3 450.0h1.0v1.5h-1.0z M237.7 454.2h1.0v1.5h-1.0z M238.0 458.0h1.0v1.5h-1.0z M237.7 462.7h1.0v1.5h-1.0z M241.8 449.6h1.0v1.5h-1.0z M241.6 454.0h1.0v1.5h-1.0z M241.5 458.2h1.0v1.5h-1.0z" fill="#8a8a8a"/>
<path d="M251.2 400.0h1.0v1.5h-1.0z M251.3 404.3h1.0v1.5h-1.0z M251.4 412.7h1.0v1.5h-1.0z M251.2 417.2h1.0v1.5h-1.0z M251.5 421.4h1.0v1.5h-1.0z M251.6 434.6h1.0v1.5h-1.0z M251.2 439.2h1.0v1.5h-1.0z M251.7 448.1h1.0v1.5h-1.0z M251.2 452.3h1.0v1.5h-1.0z M256.1 398.8h1.0v1.5h-1.0z M256.2 403.6h1.0v1.5h-1.0z M256.0 425.7h1.0v1.5h-1.0z M256.2 430.1h1.0v1.5h-1.0z M256.0 434.5h1.0v1.5h-1.0z M256.0 438.6h1.0v1.5h-1.0z M255.9 443.4h1.0v1.5h-1.0z M260.6 395.5h1.0v1.5h-1.0z M260.7 400.1h1.0v1.5h-1.0z M260.8 426.1h1.0v1.5h-1.0z M260.1 430.5h1.0v1.5h-1.0z M260.6 435.5h1.0v1.5h-1.0z M260.9 453.2h1.0v1.5h-1.0z M264.9 398.1h1.0v1.5h-1.0z M264.8 412.0h1.0v1.5h-1.0z M264.8 420.0h1.0v1.5h-1.0z M264.9 425.0h1.0v1.5h-1.0z M265.3 438.3h1.0v1.5h-1.0z M264.8 442.5h1.0v1.5h-1.0z M265.1 447.2h1.0v1.5h-1.0z M265.3 455.2h1.0v1.5h-1.0z" fill="#b5b5b5"/>
<text x="222" y="432" font-family="Liberation Sans" font-size="7.5" font-weight="normal" font-style="normal" fill="#bdbdbd" text-anchor="start" textLength="45" lengthAdjust="spacingAndGlyphs" xml:space="preserve" >Z C1ЕЗ</text>
<text x="240" y="444" font-family="Liberation Sans" font-size="7" font-weight="normal" font-style="normal" fill="#c0c0c0" text-anchor="start" textLength="26" lengthAdjust="spacingAndGlyphs" xml:space="preserve" >CNC1</text>
<line x1="139.3" y1="456.2" x2="267.8" y2="387.1" stroke="#aaa" stroke-width="0.8" stroke-dasharray="2,2" />
<line x1="139.3" y1="466" x2="267.8" y2="398" stroke="#aaa" stroke-width="0.8" stroke-dasharray="2,2" />
<line x1="200" y1="480.3" x2="246.5" y2="457.9" stroke="#aaa" stroke-width="0.8" stroke-dasharray="2,1.5" />
<line x1="203" y1="426" x2="217" y2="407" stroke="#999" stroke-width="0.7" stroke-dasharray="1.5,1" />
<line x1="206" y1="433" x2="220.8" y2="412.3" stroke="#999" stroke-width="0.7" stroke-dasharray="1.5,1" />
<line x1="222" y1="440" x2="228" y2="419" stroke="#999" stroke-width="0.7" stroke-dasharray="1.5,1" />
<line x1="236" y1="437" x2="229" y2="420" stroke="#999" stroke-width="0.7" stroke-dasharray="1.5,1" />
<line x1="161" y1="443" x2="158.8" y2="437.2" stroke="#999" stroke-width="0.7" stroke-dasharray="1.5,1" />
<line x1="172" y1="452" x2="170.3" y2="459" stroke="#999" stroke-width="0.7" stroke-dasharray="1.5,1" />
<line x1="186" y1="472" x2="177.9" y2="471.6" stroke="#999" stroke-width="0.7" stroke-dasharray="1.5,1" />
<line x1="174" y1="482" x2="169.7" y2="477.4" stroke="#999" stroke-width="0.7" stroke-dasharray="1.5,1" />
<line x1="238" y1="459" x2="246.5" y2="457.9" stroke="#999" stroke-width="0.7" stroke-dasharray="1.5,1" />
<polyline points="156.60,433.60 217.00,399.00 224.30,410.70" fill="none" stroke="#2e2e2e" stroke-width="1.3" stroke-linejoin="miter" />
<polyline points="158.80,437.20 217.00,406.30 220.80,412.30 224.30,410.70" fill="none" stroke="#2e2e2e" stroke-width="1.3" stroke-linejoin="miter" />
<line x1="156.6" y1="433.6" x2="158.8" y2="437.2" stroke="#2e2e2e" stroke-width="1.3" />
<line x1="227.9" y1="419.1" x2="246.5" y2="457.9" stroke="#333" stroke-width="1.3" />
<line x1="229.8" y1="418.3" x2="248" y2="457" stroke="#555" stroke-width="1" />
<polygon points="170.30,459.00 177.90,471.60 169.70,477.40 162.60,467.20" fill="none" stroke="#2a2a2a" stroke-width="1.3" stroke-linejoin="miter" />
<text x="150.6" y="409.9" font-family="Liberation Serif" font-size="8.3" font-weight="normal" font-style="normal" fill="#222" text-anchor="start" textLength="31.2" lengthAdjust="spacingAndGlyphs" stroke="#222" stroke-width="0.15" xml:space="preserve" >:ЗУ19(7)</text>
<polyline points="148.00,411.40 181.20,411.40 188.30,420.00" fill="none" stroke="#777" stroke-width="0.8" stroke-linejoin="miter" />
<text x="193.8" y="454.6" font-family="Liberation Serif" font-size="8.3" font-weight="normal" font-style="normal" fill="#222" text-anchor="start" textLength="28.6" lengthAdjust="spacingAndGlyphs" stroke="#222" stroke-width="0.15" xml:space="preserve" >:ЗУ19(8)</text>
<polyline points="189.40,457.30 223.50,457.30 236.10,442.00" fill="none" stroke="#777" stroke-width="0.8" stroke-linejoin="miter" />
<text x="190.5" y="486.9" font-family="Liberation Serif" font-size="8.3" font-weight="normal" font-style="normal" fill="#222" text-anchor="start" textLength="27" lengthAdjust="spacingAndGlyphs" stroke="#222" stroke-width="0.15" xml:space="preserve" >:ЗУ19(6)</text>
<polyline points="177.90,471.60 186.10,486.90" fill="none" stroke="#777" stroke-width="0.8" stroke-linejoin="miter" />
<polyline points="174.10,474.80 183.40,490.20 219.70,490.20" fill="none" stroke="#777" stroke-width="0.8" stroke-linejoin="miter" />
<text x="145.1" y="428.5" font-family="Liberation Sans" font-size="6.6" font-weight="normal" font-style="normal" fill="#161616" text-anchor="start" textLength="10.2" lengthAdjust="spacingAndGlyphs" stroke="#161616" stroke-width="0.25" xml:space="preserve" >н38</text>
<text x="193.3" y="427" font-family="Liberation Sans" font-size="6.6" font-weight="normal" font-style="normal" fill="#161616" text-anchor="start" textLength="10.2" lengthAdjust="spacingAndGlyphs" stroke="#161616" stroke-width="0.25" xml:space="preserve" >н40</text>
<text x="199.3" y="434.5" font-family="Liberation Sans" font-size="6.6" font-weight="normal" font-style="normal" fill="#161616" text-anchor="start" textLength="10.2" lengthAdjust="spacingAndGlyphs" stroke="#161616" stroke-width="0.25" xml:space="preserve" >н41</text>
<text x="212" y="394.6" font-family="Liberation Sans" font-size="6.6" font-weight="normal" font-style="normal" fill="#161616" text-anchor="start" textLength="10.2" lengthAdjust="spacingAndGlyphs" stroke="#161616" stroke-width="0.25" xml:space="preserve" >н37</text>
<text x="226.8" y="410" font-family="Liberation Sans" font-size="6.6" font-weight="normal" font-style="normal" fill="#161616" text-anchor="start" textLength="10.2" lengthAdjust="spacingAndGlyphs" stroke="#161616" stroke-width="0.25" xml:space="preserve" >н36</text>
<text x="232.8" y="422.5" font-family="Liberation Sans" font-size="6.6" font-weight="normal" font-style="normal" fill="#161616" text-anchor="start" textLength="10.2" lengthAdjust="spacingAndGlyphs" stroke="#161616" stroke-width="0.25" xml:space="preserve" >н43</text>
<text x="212" y="443" font-family="Liberation Sans" font-size="6.6" font-weight="normal" font-style="normal" fill="#161616" text-anchor="start" textLength="10.2" lengthAdjust="spacingAndGlyphs" stroke="#161616" stroke-width="0.25" xml:space="preserve" >н45</text>
<text x="228" y="440" font-family="Liberation Sans" font-size="6.6" font-weight="normal" font-style="normal" fill="#161616" text-anchor="start" textLength="10.2" lengthAdjust="spacingAndGlyphs" stroke="#161616" stroke-width="0.25" xml:space="preserve" >н44</text>
<text x="151.7" y="447.3" font-family="Liberation Sans" font-size="6.6" font-weight="normal" font-style="normal" fill="#161616" text-anchor="start" textLength="10.2" lengthAdjust="spacingAndGlyphs" stroke="#161616" stroke-width="0.25" xml:space="preserve" >н39</text>
<text x="165.4" y="456" font-family="Liberation Sans" font-size="6.6" font-weight="normal" font-style="normal" fill="#161616" text-anchor="start" textLength="10.2" lengthAdjust="spacingAndGlyphs" stroke="#161616" stroke-width="0.25" xml:space="preserve" >н33</text>
<text x="149" y="472.1" font-family="Liberation Sans" font-size="6.6" font-weight="normal" font-style="normal" fill="#161616" text-anchor="start" textLength="10.2" lengthAdjust="spacingAndGlyphs" stroke="#161616" stroke-width="0.25" xml:space="preserve" >н34</text>
<text x="181.8" y="473.6" font-family="Liberation Sans" font-size="6.6" font-weight="normal" font-style="normal" fill="#161616" text-anchor="start" textLength="10.2" lengthAdjust="spacingAndGlyphs" stroke="#161616" stroke-width="0.25" xml:space="preserve" >н32</text>
<text x="165.4" y="487.2" font-family="Liberation Sans" font-size="6.6" font-weight="normal" font-style="normal" fill="#161616" text-anchor="start" textLength="10.2" lengthAdjust="spacingAndGlyphs" stroke="#161616" stroke-width="0.25" xml:space="preserve" >н35</text>
<text x="230.6" y="463.7" font-family="Liberation Sans" font-size="6.6" font-weight="normal" font-style="normal" fill="#161616" text-anchor="start" textLength="10.2" lengthAdjust="spacingAndGlyphs" stroke="#161616" stroke-width="0.25" xml:space="preserve" >н42</text>
<text x="142.4" y="500.5" font-family="Liberation Serif" font-size="5.5" font-weight="bold" font-style="normal" fill="#333" text-anchor="start" textLength="22.4" lengthAdjust="spacingAndGlyphs" xml:space="preserve" >М 1:1000</text>
<rect x="291.3" y="367.4" width="129.8" height="128.4" fill="none" stroke="#999" stroke-width="1"/>
<path d="M333.4 418.8h1.0v1.5h-1.0z M333.3 423.1h1.0v1.5h-1.0z M333.1 427.2h1.0v1.5h-1.0z M333.2 431.7h1.0v1.5h-1.0z M332.9 436.2h1.0v1.5h-1.0z M333.3 440.3h1.0v1.5h-1.0z M333.1 444.6h1.0v1.5h-1.0z M333.4 448.6h1.0v1.5h-1.0z M332.8 453.1h1.0v1.5h-1.0z M333.4 456.8h1.0v1.5h-1.0z M333.5 461.4h1.0v1.5h-1.0z M333.0 465.3h1.0v1.5h-1.0z M333.1 469.7h1.0v1.5h-1.0z M337.7 421.5h1.0v1.5h-1.0z M337.4 430.1h1.0v1.5h-1.0z M337.8 433.9h1.0v1.5h-1.0z M337.7 438.7h1.0v1.5h-1.0z M337.3 442.9h1.0v1.5h-1.0z M337.6 447.2h1.0v1.5h-1.0z M337.1 451.1h1.0v1.5h-1.0z M337.2 455.4h1.0v1.5h-1.0z M337.2 459.5h1.0v1.5h-1.0z M337.4 463.4h1.0v1.5h-1.0z M337.7 468.1h1.0v1.5h-1.0z M342.0 425.0h1.0v1.5h-1.0z M342.1 429.7h1.0v1.5h-1.0z M341.7 433.7h1.0v1.5h-1.0z M341.6 450.5h1.0v1.5h-1.0z M341.8 454.4h1.0v1.5h-1.0z M341.6 462.7h1.0v1.5h-1.0z M342.0 467.0h1.0v1.5h-1.0z M341.6 471.4h1.0v1.5h-1.0z M346.3 423.4h1.0v1.5h-1.0z M345.9 427.8h1.0v1.5h-1.0z M346.4 432.0h1.0v1.5h-1.0z M346.4 435.8h1.0v1.5h-1.0z M346.3 461.2h1.0v1.5h-1.0z M346.4 465.0h1.0v1.5h-1.0z M346.0 469.3h1.0v1.5h-1.0z M350.4 423.2h1.0v1.5h-1.0z M350.5 427.2h1.0v1.5h-1.0z M350.1 431.9h1.0v1.5h-1.0z M350.1 435.4h1.0v1.5h-1.0z M350.2 440.3h1.0v1.5h-1.0z M350.6 443.8h1.0v1.5h-1.0z M350.5 448.4h1.0v1.5h-1.0z M350.0 452.2h1.0v1.5h-1.0z M350.7 456.9h1.0v1.5h-1.0z M350.4 461.1h1.0v1.5h-1.0z M350.2 469.0h1.0v1.5h-1.0z M354.3 433.9h1.0v1.5h-1.0z M354.4 446.7h1.0v1.5h-1.0z M355.0 450.2h1.0v1.5h-1.0z M354.3 455.1h1.0v1.5h-1.0z M354.8 458.9h1.0v1.5h-1.0z M354.9 463.1h1.0v1.5h-1.0z M354.4 467.1h1.0v1.5h-1.0z M358.7 422.4h1.0v1.5h-1.0z M358.9 426.0h1.0v1.5h-1.0z M359.2 430.4h1.0v1.5h-1.0z M358.8 439.2h1.0v1.5h-1.0z M358.6 447.6h1.0v1.5h-1.0z M358.7 451.5h1.0v1.5h-1.0z M358.8 455.5h1.0v1.5h-1.0z M359.3 460.3h1.0v1.5h-1.0z M358.6 463.9h1.0v1.5h-1.0z M358.6 468.5h1.0v1.5h-1.0z M362.9 420.6h1.0v1.5h-1.0z M363.0 424.1h1.0v1.5h-1.0z M363.3 428.5h1.0v1.5h-1.0z M363.6 432.7h1.0v1.5h-1.0z M363.0 436.9h1.0v1.5h-1.0z M363.4 441.1h1.0v1.5h-1.0z M363.2 453.8h1.0v1.5h-1.0z M363.4 462.6h1.0v1.5h-1.0z M363.0 466.2h1.0v1.5h-1.0z M363.2 470.9h1.0v1.5h-1.0z M367.4 419.6h1.0v1.5h-1.0z M367.5 423.1h1.0v1.5h-1.0z M367.5 428.0h1.0v1.5h-1.0z M367.3 432.2h1.0v1.5h-1.0z M367.3 436.0h1.0v1.5h-1.0z M367.2 440.3h1.0v1.5h-1.0z M367.6 444.2h1.0v1.5h-1.0z M367.8 449.0h1.0v1.5h-1.0z M367.7 452.8h1.0v1.5h-1.0z M367.2 457.4h1.0v1.5h-1.0z M367.5 461.3h1.0v1.5h-1.0z M367.6 465.1h1.0v1.5h-1.0z M367.3 469.5h1.0v1.5h-1.0z M372.1 419.2h1.0v1.5h-1.0z M371.6 427.5h1.0v1.5h-1.0z M371.9 432.1h1.0v1.5h-1.0z M371.5 436.6h1.0v1.5h-1.0z M371.5 440.2h1.0v1.5h-1.0z M371.9 444.6h1.0v1.5h-1.0z M371.6 453.2h1.0v1.5h-1.0z M371.6 457.4h1.0v1.5h-1.0z M371.6 461.8h1.0v1.5h-1.0z M371.8 465.7h1.0v1.5h-1.0z M371.9 469.8h1.0v1.5h-1.0z M376.0 422.8h1.0v1.5h-1.0z M376.1 427.6h1.0v1.5h-1.0z M376.5 431.7h1.0v1.5h-1.0z M375.8 435.7h1.0v1.5h-1.0z M376.5 439.7h1.0v1.5h-1.0z M376.3 443.9h1.0v1.5h-1.0z M375.8 448.2h1.0v1.5h-1.0z M375.8 452.2h1.0v1.5h-1.0z M376.4 457.0h1.0v1.5h-1.0z M376.4 461.2h1.0v1.5h-1.0z M375.8 465.2h1.0v1.5h-1.0z M376.3 469.1h1.0v1.5h-1.0z M380.5 421.2h1.0v1.5h-1.0z M380.4 425.9h1.0v1.5h-1.0z M380.3 429.9h1.0v1.5h-1.0z M380.8 438.2h1.0v1.5h-1.0z M380.4 442.4h1.0v1.5h-1.0z M380.4 459.0h1.0v1.5h-1.0z M380.7 471.9h1.0v1.5h-1.0z M384.5 421.7h1.0v1.5h-1.0z M384.8 425.8h1.0v1.5h-1.0z M384.6 429.7h1.0v1.5h-1.0z M384.7 438.4h1.0v1.5h-1.0z M385.0 446.5h1.0v1.5h-1.0z M384.7 450.7h1.0v1.5h-1.0z M384.6 455.3h1.0v1.5h-1.0z M384.7 467.3h1.0v1.5h-1.0z M389.2 420.4h1.0v1.5h-1.0z M389.2 428.9h1.0v1.5h-1.0z M388.9 433.5h1.0v1.5h-1.0z M389.3 437.8h1.0v1.5h-1.0z M389.2 441.9h1.0v1.5h-1.0z M389.0 446.2h1.0v1.5h-1.0z M389.4 449.8h1.0v1.5h-1.0z M388.7 454.5h1.0v1.5h-1.0z M389.0 458.9h1.0v1.5h-1.0z M389.0 463.0h1.0v1.5h-1.0z M389.1 466.8h1.0v1.5h-1.0z M389.0 471.3h1.0v1.5h-1.0z M393.4 420.2h1.0v1.5h-1.0z M393.6 424.8h1.0v1.5h-1.0z M393.3 428.5h1.0v1.5h-1.0z M393.1 433.0h1.0v1.5h-1.0z M393.0 437.5h1.0v1.5h-1.0z M393.6 441.6h1.0v1.5h-1.0z M393.1 445.5h1.0v1.5h-1.0z M393.0 449.4h1.0v1.5h-1.0z M393.3 454.3h1.0v1.5h-1.0z M393.4 458.5h1.0v1.5h-1.0z M393.4 462.5h1.0v1.5h-1.0z M393.2 466.6h1.0v1.5h-1.0z M393.7 470.9h1.0v1.5h-1.0z" fill="#a8a8a8"/>
<path d="M402.9 426.1h1.0v1.5h-1.0z M403.3 429.5h1.0v1.5h-1.0z M407.9 426.2h1.0v1.5h-1.0z M407.8 429.5h1.0v1.5h-1.0z M412.4 425.9h1.0v1.5h-1.0z M417.0 428.3h1.0v1.5h-1.0z" fill="#8a8a8a"/>
<line x1="291.3" y1="420.3" x2="319.5" y2="420.3" stroke="#999" stroke-width="0.9" />
<line x1="291.3" y1="429.5" x2="330" y2="429.5" stroke="#999" stroke-width="0.9" />
<line x1="396" y1="422.4" x2="421.1" y2="422.4" stroke="#999" stroke-width="0.9" />
<line x1="396" y1="430.6" x2="421.1" y2="430.6" stroke="#999" stroke-width="0.9" />
<line x1="331" y1="471.8" x2="396.3" y2="471.8" stroke="#999" stroke-width="0.9" stroke-dasharray="3,1" />
<line x1="396.3" y1="416.4" x2="396.3" y2="471.8" stroke="#aaa" stroke-width="0.9" stroke-dasharray="2,1.5" />
<polyline points="331.00,416.00 396.00,430.00" fill="none" stroke="#aaa" stroke-width="0.8" stroke-linejoin="miter" />
<text x="336" y="441" font-family="Liberation Sans" font-size="8" font-weight="normal" font-style="normal" fill="#b8b8b8" text-anchor="start" textLength="50" lengthAdjust="spacingAndGlyphs" xml:space="preserve" >ИЧ ББ+ВЫ</text>
<text x="368" y="451" font-family="Liberation Sans" font-size="6" font-weight="normal" font-style="normal" fill="#bbbbbb" text-anchor="start" textLength="14" lengthAdjust="spacingAndGlyphs" xml:space="preserve" >КSS</text>
<polyline points="331.00,417.00 372.00,425.00" fill="none" stroke="#aaa" stroke-width="0.8" stroke-linejoin="miter" />
<polyline points="316.30,400.60 394.10,400.60 396.30,416.40" fill="none" stroke="#333" stroke-width="1.3" stroke-linejoin="miter" />
<polyline points="316.30,400.60 319.50,420.30 331.00,420.30 331.00,416.00 396.30,416.40" fill="none" stroke="#333" stroke-width="1.3" stroke-linejoin="miter" />
<line x1="329.9" y1="429.6" x2="329.9" y2="471.8" stroke="#333" stroke-width="1.6" />
<line x1="326.7" y1="429.6" x2="331.6" y2="429.6" stroke="#333" stroke-width="1.3" />
<text x="343.6" y="412.6" font-family="Liberation Serif" font-size="8.3" font-weight="normal" font-style="normal" fill="#222" text-anchor="start" textLength="34.1" lengthAdjust="spacingAndGlyphs" stroke="#222" stroke-width="0.15" xml:space="preserve" >:ЗУ19(10)</text>
<text x="337.5" y="451.5" font-family="Liberation Serif" font-size="8.3" font-weight="normal" font-style="normal" fill="#222" text-anchor="start" textLength="31" lengthAdjust="spacingAndGlyphs" stroke="#222" stroke-width="0.15" xml:space="preserve" >:ЗУ19(9)</text>
<polyline points="331.00,447.00 337.00,454.00 369.00,454.00" fill="none" stroke="#777" stroke-width="0.8" stroke-linejoin="miter" />
<text x="315.2" y="397.1" font-family="Liberation Sans" font-size="6.6" font-weight="normal" font-style="normal" fill="#161616" text-anchor="start" textLength="10.2" lengthAdjust="spacingAndGlyphs" stroke="#161616" stroke-width="0.25" xml:space="preserve" >н53</text>
<text x="303.1" y="405.3" font-family="Liberation Sans" font-size="6.6" font-weight="normal" font-style="normal" fill="#161616" text-anchor="start" textLength="10.2" lengthAdjust="spacingAndGlyphs" stroke="#161616" stroke-width="0.25" xml:space="preserve" >н54</text>
<text x="306.4" y="420.6" font-family="Liberation Sans" font-size="6.6" font-weight="normal" font-style="normal" fill="#161616" text-anchor="start" textLength="10.2" lengthAdjust="spacingAndGlyphs" stroke="#161616" stroke-width="0.25" xml:space="preserve" >н55</text>
<text x="303.1" y="430.5" font-family="Liberation Sans" font-size="6.6" font-weight="normal" font-style="normal" fill="#161616" text-anchor="start" textLength="10.2" lengthAdjust="spacingAndGlyphs" stroke="#161616" stroke-width="0.25" xml:space="preserve" >н57</text>
<text x="388.1" y="397.1" font-family="Liberation Sans" font-size="6.6" font-weight="normal" font-style="normal" fill="#161616" text-anchor="start" textLength="10.2" lengthAdjust="spacingAndGlyphs" stroke="#161616" stroke-width="0.25" xml:space="preserve" >н51</text>
<text x="397.4" y="405.3" font-family="Liberation Sans" font-size="6.6" font-weight="normal" font-style="normal" fill="#161616" text-anchor="start" textLength="10.2" lengthAdjust="spacingAndGlyphs" stroke="#161616" stroke-width="0.25" xml:space="preserve" >н52</text>
<text x="400.1" y="417.9" font-family="Liberation Sans" font-size="6.6" font-weight="normal" font-style="normal" fill="#161616" text-anchor="start" textLength="10.2" lengthAdjust="spacingAndGlyphs" stroke="#161616" stroke-width="0.25" xml:space="preserve" >н50</text>
<text x="366.8" y="426.6" font-family="Liberation Sans" font-size="6.6" font-weight="normal" font-style="normal" fill="#161616" text-anchor="start" textLength="10.2" lengthAdjust="spacingAndGlyphs" stroke="#161616" stroke-width="0.25" xml:space="preserve" >н58</text>
<text x="352" y="430.5" font-family="Liberation Sans" font-size="6.6" font-weight="normal" font-style="normal" fill="#161616" text-anchor="start" textLength="10.2" lengthAdjust="spacingAndGlyphs" stroke="#161616" stroke-width="0.25" xml:space="preserve" >н56</text>
<text x="309.1" y="439.8" font-family="Liberation Sans" font-size="6.6" font-weight="normal" font-style="normal" fill="#161616" text-anchor="start" textLength="10.2" lengthAdjust="spacingAndGlyphs" stroke="#161616" stroke-width="0.25" xml:space="preserve" >н47</text>
<text x="314" y="451.9" font-family="Liberation Sans" font-size="6.6" font-weight="normal" font-style="normal" fill="#161616" text-anchor="start" textLength="10.2" lengthAdjust="spacingAndGlyphs" stroke="#161616" stroke-width="0.25" xml:space="preserve" >н48</text>
<text x="316.3" y="473.8" font-family="Liberation Sans" font-size="6.6" font-weight="normal" font-style="normal" fill="#161616" text-anchor="start" textLength="10.2" lengthAdjust="spacingAndGlyphs" stroke="#161616" stroke-width="0.25" xml:space="preserve" >н49</text>
<text x="335.4" y="435.5" font-family="Liberation Sans" font-size="6.6" font-weight="normal" font-style="normal" fill="#161616" text-anchor="start" textLength="10.2" lengthAdjust="spacingAndGlyphs" stroke="#161616" stroke-width="0.25" xml:space="preserve" >н46</text>
<text x="296" y="492.4" font-family="Liberation Serif" font-size="5.5" font-weight="bold" font-style="normal" fill="#333" text-anchor="start" textLength="23" lengthAdjust="spacingAndGlyphs" xml:space="preserve" >М 1:1000</text>
<line x1="379.5" y1="533.2" x2="488.75" y2="533.2" stroke="#888" stroke-width="1" />
<text x="419.8" y="528.5" font-family="Liberation Serif" font-size="5" font-weight="normal" font-style="italic" fill="#555" text-anchor="start" textLength="45.6" lengthAdjust="spacingAndGlyphs" xml:space="preserve" >Линия гр. улицы К</text>
<polyline points="400.60,502.70 416.40,562.00 432.70,556.00" fill="none" stroke="#888" stroke-width="0.9" stroke-linejoin="miter" />
<polyline points="398.30,503.20 414.80,564.80 433.50,558.50" fill="none" stroke="#888" stroke-width="0.9" stroke-linejoin="miter" />
<polyline points="429.30,502.00 443.90,560.30 459.40,586.00" fill="none" stroke="#999" stroke-width="0.9" stroke-linejoin="miter" />
<polyline points="442.00,550.00 444.50,567.00 459.40,586.00" fill="none" stroke="#aaa" stroke-width="0.8" stroke-dasharray="2,1.5" stroke-linejoin="miter" />
<polyline points="455.50,550.00 459.40,583.60" fill="none" stroke="#aaa" stroke-width="0.8" stroke-dasharray="2,1.5" stroke-linejoin="miter" />
<polyline points="440.00,505.00 455.00,550.00" fill="none" stroke="#aaa" stroke-width="0.8" stroke-dasharray="2,2" stroke-linejoin="miter" />
<polyline points="447.00,505.00 462.00,560.00" fill="none" stroke="#aaa" stroke-width="0.8" stroke-dasharray="2,2" stroke-linejoin="miter" />
<rect x="445.5" y="550" width="3.5" height="3.5" fill="none" stroke="#aaa" stroke-width="0.8"/>
<polyline points="456.00,550.00 491.00,540.70 538.20,633.10 472.90,666.40" fill="none" stroke="#888" stroke-width="0.9" stroke-linejoin="miter" />
<polyline points="456.50,552.50 489.80,543.60 534.80,632.60 473.50,664.00" fill="none" stroke="#888" stroke-width="0.9" stroke-dasharray="15,1.5" stroke-linejoin="miter" />
<polyline points="468.00,564.00 460.20,575.80" fill="none" stroke="#999" stroke-width="0.8" stroke-linejoin="miter" />
<polyline points="445.00,574.00 448.00,578.00 442.20,596.00" fill="none" stroke="#999" stroke-width="0.8" stroke-dasharray="2,1" stroke-linejoin="miter" />
<polyline points="459.00,586.00 414.00,618.75" fill="none" stroke="#aaa" stroke-width="0.8" stroke-dasharray="3,2" stroke-linejoin="miter" />
<polyline points="451.60,598.40 436.70,608.60 435.20,620.30 415.60,626.60 407.80,626.60" fill="none" stroke="#999" stroke-width="0.8" stroke-dasharray="3,1" stroke-linejoin="miter" />
<polyline points="465.60,588.30 484.40,595.30 495.20,590.10 508.10,629.70 485.00,640.00" fill="none" stroke="#999" stroke-width="0.8" stroke-dasharray="3,1.5" stroke-linejoin="miter" />
<polyline points="443.75,617.20 478.00,603.00" fill="none" stroke="#aaa" stroke-width="0.8" stroke-dasharray="2,2" stroke-linejoin="miter" />
<polyline points="462.50,593.75 473.40,603.00" fill="none" stroke="#aaa" stroke-width="0.8" stroke-dasharray="2,2" stroke-linejoin="miter" />
<polyline points="484.40,640.60 500.00,630.00" fill="none" stroke="#aaa" stroke-width="0.8" stroke-dasharray="2,2" stroke-linejoin="miter" />
<polyline points="401.00,679.70 443.90,664.20" fill="none" stroke="#aaa" stroke-width="0.8" stroke-dasharray="1.5,2" stroke-linejoin="miter" />
<polyline points="426.70,617.80 459.00,600.00" fill="none" stroke="#aaa" stroke-width="0.8" stroke-dasharray="1.5,2.5" stroke-linejoin="miter" />
<path d="M462.7 593.7h0.9v0.9h-0.9z M415.2 583.2h0.9v0.9h-0.9z M438.3 600.4h0.9v0.9h-0.9z M417.2 574.6h0.9v0.9h-0.9z M446.0 608.3h0.9v0.9h-0.9z M428.0 639.5h0.9v0.9h-0.9z M446.4 563.4h0.9v0.9h-0.9z M431.7 623.0h0.9v0.9h-0.9z M424.9 615.3h0.9v0.9h-0.9z M405.3 584.4h0.9v0.9h-0.9z M459.7 606.9h0.9v0.9h-0.9z M448.4 575.7h0.9v0.9h-0.9z M437.4 604.3h0.9v0.9h-0.9z M422.3 611.7h0.9v0.9h-0.9z M439.5 639.8h0.9v0.9h-0.9z M442.3 592.9h0.9v0.9h-0.9z M412.9 572.5h0.9v0.9h-0.9z M454.4 568.5h0.9v0.9h-0.9z M411.5 573.6h0.9v0.9h-0.9z M439.0 625.9h0.9v0.9h-0.9z M444.8 624.5h0.9v0.9h-0.9z M409.0 561.0h0.9v0.9h-0.9z M455.1 585.8h0.9v0.9h-0.9z M451.5 588.3h0.9v0.9h-0.9z M416.0 581.3h0.9v0.9h-0.9z M411.5 632.3h0.9v0.9h-0.9z M442.8 587.9h0.9v0.9h-0.9z M434.2 590.9h0.9v0.9h-0.9z M408.6 631.2h0.9v0.9h-0.9z M442.9 636.8h0.9v0.9h-0.9z" fill="#aaa"/>
<text x="471.2" y="562" font-family="Liberation Sans" font-size="4.5" font-weight="normal" font-style="normal" fill="#999" text-anchor="start" textLength="9" lengthAdjust="spacingAndGlyphs" xml:space="preserve" >1400</text>
<text x="437.9" y="576.4" font-family="Liberation Sans" font-size="4.5" font-weight="normal" font-style="normal" fill="#999" text-anchor="start" textLength="9" lengthAdjust="spacingAndGlyphs" xml:space="preserve" >1516</text>
<text x="479.8" y="586.6" font-family="Liberation Sans" font-size="4.5" font-weight="normal" font-style="normal" fill="#999" text-anchor="start" textLength="9" lengthAdjust="spacingAndGlyphs" xml:space="preserve" >1505</text>
<text x="450.8" y="610.4" font-family="Liberation Sans" font-size="4.5" font-weight="normal" font-style="normal" fill="#999" text-anchor="start" textLength="9" lengthAdjust="spacingAndGlyphs" xml:space="preserve" >1596</text>
<text x="456.8" y="633.5" font-family="Liberation Sans" font-size="4.5" font-weight="normal" font-style="normal" fill="#999" text-anchor="start" textLength="9" lengthAdjust="spacingAndGlyphs" xml:space="preserve" >1360</text>
<text x="506.7" y="552" font-family="Liberation Serif" font-size="8.5" font-weight="bold" font-style="normal" fill="#333" text-anchor="start" textLength="51.3" lengthAdjust="spacingAndGlyphs" xml:space="preserve" >86:08:0030702</text>
<rect x="443.5" y="645.3" width="27.9" height="28.4" fill="none" stroke="#999" stroke-width="0.9"/>
<text x="413" y="650.1" font-family="Liberation Serif" font-size="8.3" font-weight="normal" font-style="normal" fill="#222" text-anchor="start" textLength="35.2" lengthAdjust="spacingAndGlyphs" stroke="#222" stroke-width="0.15" xml:space="preserve" >:ЗУ19(11)</text>
<line x1="411.2" y1="651.5" x2="448" y2="651.5" stroke="#777" stroke-width="0.8" />
<line x1="453.9" y1="657.3" x2="458.5" y2="666.8" stroke="#333" stroke-width="2" />
<polygon points="462.00,652.00 470.00,648.00 474.00,657.00 466.00,661.00" fill="none" stroke="#999" stroke-width="0.8" stroke-linejoin="miter" />
<polyline points="478.00,648.00 476.00,652.00 480.00,657.00" fill="none" stroke="#aaa" stroke-width="0.8" stroke-linejoin="miter" />
<text x="455" y="652.5" font-family="Liberation Sans" font-size="5.4" font-weight="normal" font-style="normal" fill="#222" text-anchor="start" textLength="9" lengthAdjust="spacingAndGlyphs" stroke="#222" stroke-width="0.2" xml:space="preserve" >н60</text>
<text x="440" y="660.5" font-family="Liberation Sans" font-size="5.4" font-weight="normal" font-style="normal" fill="#222" text-anchor="start" textLength="9" lengthAdjust="spacingAndGlyphs" stroke="#222" stroke-width="0.2" xml:space="preserve" >н61</text>
<text x="462" y="669.5" font-family="Liberation Sans" font-size="5.4" font-weight="normal" font-style="normal" fill="#222" text-anchor="start" textLength="9" lengthAdjust="spacingAndGlyphs" stroke="#222" stroke-width="0.2" xml:space="preserve" >н59</text>
<text x="445" y="672.5" font-family="Liberation Sans" font-size="5.4" font-weight="normal" font-style="normal" fill="#222" text-anchor="start" textLength="9" lengthAdjust="spacingAndGlyphs" stroke="#222" stroke-width="0.2" xml:space="preserve" >н62</text>
<line x1="445" y1="673.5" x2="430" y2="678" stroke="#999" stroke-width="0.8" />
<text x="505" y="679.3" font-family="Liberation Serif" font-size="8" font-weight="bold" font-style="normal" fill="#222" text-anchor="start" textLength="54.1" lengthAdjust="spacingAndGlyphs" xml:space="preserve" >Масштаб 1:3500</text>
<rect x="418.5" y="678.5" width="83.7" height="75.5" fill="none" stroke="#999" stroke-width="1"/>
<path d="M465.1 700.4h1.0v1.5h-1.0z M465.6 705.0h1.0v1.5h-1.0z M465.6 709.4h1.0v1.5h-1.0z M469.9 697.4h1.0v1.5h-1.0z M469.8 701.6h1.0v1.5h-1.0z M469.7 706.2h1.0v1.5h-1.0z M470.1 710.0h1.0v1.5h-1.0z M469.8 714.4h1.0v1.5h-1.0z M469.7 719.1h1.0v1.5h-1.0z M469.8 727.8h1.0v1.5h-1.0z M474.8 694.6h1.0v1.5h-1.0z M474.3 698.9h1.0v1.5h-1.0z M474.1 703.6h1.0v1.5h-1.0z M474.2 708.1h1.0v1.5h-1.0z M474.8 716.4h1.0v1.5h-1.0z M474.8 721.3h1.0v1.5h-1.0z M474.4 725.7h1.0v1.5h-1.0z M478.9 692.0h1.0v1.5h-1.0z M478.9 696.0h1.0v1.5h-1.0z M479.3 700.3h1.0v1.5h-1.0z M479.2 704.8h1.0v1.5h-1.0z M479.2 709.0h1.0v1.5h-1.0z M478.8 713.7h1.0v1.5h-1.0z M478.9 718.3h1.0v1.5h-1.0z M479.2 722.5h1.0v1.5h-1.0z M479.0 726.5h1.0v1.5h-1.0z M483.6 690.9h1.0v1.5h-1.0z M483.6 699.6h1.0v1.5h-1.0z M483.4 703.8h1.0v1.5h-1.0z M483.4 708.6h1.0v1.5h-1.0z M483.6 713.1h1.0v1.5h-1.0z M484.0 717.5h1.0v1.5h-1.0z M483.5 721.2h1.0v1.5h-1.0z M488.2 688.5h1.0v1.5h-1.0z M488.5 692.8h1.0v1.5h-1.0z M488.2 697.5h1.0v1.5h-1.0z M488.0 702.1h1.0v1.5h-1.0z M488.5 705.8h1.0v1.5h-1.0z M488.1 714.8h1.0v1.5h-1.0z M487.9 719.2h1.0v1.5h-1.0z M493.2 684.1h1.0v1.5h-1.0z M492.7 688.4h1.0v1.5h-1.0z M492.8 692.4h1.0v1.5h-1.0z M493.1 697.0h1.0v1.5h-1.0z M493.0 705.6h1.0v1.5h-1.0z M492.6 710.6h1.0v1.5h-1.0z M493.2 715.0h1.0v1.5h-1.0z M497.7 684.5h1.0v1.5h-1.0z M497.2 689.0h1.0v1.5h-1.0z M497.8 693.2h1.0v1.5h-1.0z M497.8 697.6h1.0v1.5h-1.0z M497.1 702.0h1.0v1.5h-1.0z M497.5 706.6h1.0v1.5h-1.0z M497.7 710.3h1.0v1.5h-1.0z M497.7 714.9h1.0v1.5h-1.0z" fill="#8a8a8a"/>
<path d="M480.4 723.0h1.0v1.5h-1.0z M484.8 720.6h1.0v1.5h-1.0z M484.6 725.4h1.0v1.5h-1.0z M484.7 729.5h1.0v1.5h-1.0z M484.9 734.4h1.0v1.5h-1.0z M484.7 738.8h1.0v1.5h-1.0z M489.4 717.1h1.0v1.5h-1.0z M489.7 721.0h1.0v1.5h-1.0z M489.6 725.6h1.0v1.5h-1.0z M489.8 729.7h1.0v1.5h-1.0z M489.3 738.5h1.0v1.5h-1.0z M493.8 719.1h1.0v1.5h-1.0z M494.0 723.4h1.0v1.5h-1.0z M494.3 736.6h1.0v1.5h-1.0z M494.5 741.3h1.0v1.5h-1.0z M494.0 749.8h1.0v1.5h-1.0z M498.8 731.9h1.0v1.5h-1.0z M498.8 736.0h1.0v1.5h-1.0z" fill="#8a8a8a"/>
<line x1="418.5" y1="717" x2="497" y2="679" stroke="#aaa" stroke-width="0.8" stroke-dasharray="2,2" />
<line x1="465" y1="724" x2="502" y2="716" stroke="#aaa" stroke-width="0.8" stroke-dasharray="2,2" />
<polygon points="450.90,700.30 455.10,697.80 471.30,731.30 467.00,732.70" fill="none" stroke="#2e2e2e" stroke-width="1.3" stroke-linejoin="miter" />
<text x="422" y="726.3" font-family="Liberation Serif" font-size="8.3" font-weight="normal" font-style="normal" fill="#222" text-anchor="start" textLength="35.2" lengthAdjust="spacingAndGlyphs" stroke="#222" stroke-width="0.15" xml:space="preserve" >:ЗУ19(11)</text>
<polyline points="421.00,727.70 459.00,727.70 463.00,724.00" fill="none" stroke="#777" stroke-width="0.8" stroke-linejoin="miter" />
<text x="462" y="698.8" font-family="Liberation Sans" font-size="6.6" font-weight="normal" font-style="normal" fill="#161616" text-anchor="start" textLength="10.2" lengthAdjust="spacingAndGlyphs" stroke="#161616" stroke-width="0.25" xml:space="preserve" >н60</text>
<text x="436.5" y="704.4" font-family="Liberation Sans" font-size="6.6" font-weight="normal" font-style="normal" fill="#161616" text-anchor="start" textLength="10.2" lengthAdjust="spacingAndGlyphs" stroke="#161616" stroke-width="0.25" xml:space="preserve" >н61</text>
<text x="452" y="736.8" font-family="Liberation Sans" font-size="6.6" font-weight="normal" font-style="normal" fill="#161616" text-anchor="start" textLength="10.2" lengthAdjust="spacingAndGlyphs" stroke="#161616" stroke-width="0.25" xml:space="preserve" >н62</text>
<text x="474" y="734" font-family="Liberation Sans" font-size="6.6" font-weight="normal" font-style="normal" fill="#161616" text-anchor="start" textLength="10.2" lengthAdjust="spacingAndGlyphs" stroke="#161616" stroke-width="0.25" xml:space="preserve" >н59</text>
<text x="422.7" y="750.4" font-family="Liberation Serif" font-size="5.5" font-weight="bold" font-style="normal" fill="#333" text-anchor="start" textLength="23.3" lengthAdjust="spacingAndGlyphs" xml:space="preserve" >М 1:1000</text>
<rect x="151.5" y="533.75" width="109.0" height="9.75" fill="none" stroke="#8a8a8a" stroke-width="1"/>
<line x1="175.4" y1="533.75" x2="175.4" y2="543.5" stroke="#666" stroke-width="1.2" />
<line x1="216" y1="533.75" x2="216" y2="543.5" stroke="#666" stroke-width="1.2" />
<text x="154.0" y="541.5" font-family="Liberation Sans" font-size="6.6" font-weight="bold" font-style="normal" fill="#3a3a3a" text-anchor="start" textLength="19.900000000000006" lengthAdjust="spacingAndGlyphs" xml:space="preserve" >Номер</text>
<text x="177.9" y="541.5" font-family="Liberation Sans" font-size="6.6" font-weight="bold" font-style="normal" fill="#3a3a3a" text-anchor="start" xml:space="preserve" >X</text>
<text x="218.5" y="541.5" font-family="Liberation Sans" font-size="6.6" font-weight="bold" font-style="normal" fill="#3a3a3a" text-anchor="start" xml:space="preserve" >Y</text>
<rect x="151.5" y="546.9" width="109.0" height="210.0" fill="none" stroke="#8a8a8a" stroke-width="1"/>
<line x1="175.4" y1="546.9" x2="175.4" y2="756.9" stroke="#777" stroke-width="1" />
<line x1="216" y1="546.9" x2="216" y2="756.9" stroke="#777" stroke-width="1" />
<text x="154.3" y="554.65" font-family="Liberation Sans" font-size="6.8" font-weight="normal" font-style="normal" fill="#505050" text-anchor="start" xml:space="preserve" >н21</text>
<text x="178.20000000000002" y="554.65" font-family="Liberation Sans" font-size="6.8" font-weight="normal" font-style="normal" fill="#505050" text-anchor="start" textLength="31.5" lengthAdjust="spacingAndGlyphs" xml:space="preserve" >900823,93</text>
<text x="218.8" y="554.65" font-family="Liberation Sans" font-size="6.8" font-weight="normal" font-style="normal" fill="#505050" text-anchor="start" textLength="35.0" lengthAdjust="spacingAndGlyphs" xml:space="preserve" >3528025,11</text>
<line x1="151.5" y1="557.4" x2="260.5" y2="557.4" stroke="#8a8a8a" stroke-width="1" />
<text x="154.3" y="565.15" font-family="Liberation Sans" font-size="6.8" font-weight="normal" font-style="normal" fill="#505050" text-anchor="start" xml:space="preserve" >н22</text>
<text x="178.20000000000002" y="565.15" font-family="Liberation Sans" font-size="6.8" font-weight="normal" font-style="normal" fill="#505050" text-anchor="start" textLength="31.5" lengthAdjust="spacingAndGlyphs" xml:space="preserve" >900826,26</text>
<text x="218.8" y="565.15" font-family="Liberation Sans" font-size="6.8" font-weight="normal" font-style="normal" fill="#505050" text-anchor="start" textLength="35.0" lengthAdjust="spacingAndGlyphs" xml:space="preserve" >3528361,81</text>
<line x1="151.5" y1="567.9" x2="260.5" y2="567.9" stroke="#8a8a8a" stroke-width="1" />
<text x="154.3" y="575.65" font-family="Liberation Sans" font-size="6.8" font-weight="normal" font-style="normal" fill="#505050" text-anchor="start" xml:space="preserve" >н23</text>
<text x="178.20000000000002" y="575.65" font-family="Liberation Sans" font-size="6.8" font-weight="normal" font-style="normal" fill="#505050" text-anchor="start" textLength="31.5" lengthAdjust="spacingAndGlyphs" xml:space="preserve" >900832,96</text>
<text x="218.8" y="575.65" font-family="Liberation Sans" font-size="6.8" font-weight="normal" font-style="normal" fill="#505050" text-anchor="start" textLength="35.0" lengthAdjust="spacingAndGlyphs" xml:space="preserve" >3528362,17</text>
<line x1="151.5" y1="578.4" x2="260.5" y2="578.4" stroke="#8a8a8a" stroke-width="1" />
<text x="154.3" y="586.15" font-family="Liberation Sans" font-size="6.8" font-weight="normal" font-style="normal" fill="#505050" text-anchor="start" xml:space="preserve" >н24</text>
<text x="178.20000000000002" y="586.15" font-family="Liberation Sans" font-size="6.8" font-weight="normal" font-style="normal" fill="#505050" text-anchor="start" textLength="31.5" lengthAdjust="spacingAndGlyphs" xml:space="preserve" >900831,09</text>
<text x="218.8" y="586.15" font-family="Liberation Sans" font-size="6.8" font-weight="normal" font-style="normal" fill="#505050" text-anchor="start" textLength="35.0" lengthAdjust="spacingAndGlyphs" xml:space="preserve" >3528361,64</text>
<line x1="151.5" y1="588.9" x2="260.5" y2="588.9" stroke="#8a8a8a" stroke-width="1" />
<text x="154.3" y="596.65" font-family="Liberation Sans" font-size="6.8" font-weight="normal" font-style="normal" fill="#505050" text-anchor="start" xml:space="preserve" >н25</text>
<text x="178.20000000000002" y="596.65" font-family="Liberation Sans" font-size="6.8" font-weight="normal" font-style="normal" fill="#505050" text-anchor="start" textLength="31.5" lengthAdjust="spacingAndGlyphs" xml:space="preserve" >900824,96</text>
<text x="218.8" y="596.65" font-family="Liberation Sans" font-size="6.8" font-weight="normal" font-style="normal" fill="#505050" text-anchor="start" textLength="35.0" lengthAdjust="spacingAndGlyphs" xml:space="preserve" >3528381,41</text>
<line x1="151.5" y1="599.4" x2="260.5" y2="599.4" stroke="#8a8a8a" stroke-width="1" />
<text x="154.3" y="607.15" font-family="Liberation Sans" font-size="6.8" font-weight="normal" font-style="normal" fill="#505050" text-anchor="start" xml:space="preserve" >н26</text>
<text x="178.20000000000002" y="607.15" font-family="Liberation Sans" font-size="6.8" font-weight="normal" font-style="normal" fill="#505050" text-anchor="start" textLength="31.5" lengthAdjust="spacingAndGlyphs" xml:space="preserve" >900823,85</text>
<text x="218.8" y="607.15" font-family="Liberation Sans" font-size="6.8" font-weight="normal" font-style="normal" fill="#505050" text-anchor="start" textLength="35.0" lengthAdjust="spacingAndGlyphs" xml:space="preserve" >3528389,74</text>
<line x1="151.5" y1="609.9" x2="260.5" y2="609.9" stroke="#8a8a8a" stroke-width="1" />
<text x="154.3" y="617.65" font-family="Liberation Sans" font-size="6.8" font-weight="normal" font-style="normal" fill="#505050" text-anchor="start" xml:space="preserve" >н27</text>
<text x="178.20000000000002" y="617.65" font-family="Liberation Sans" font-size="6.8" font-weight="normal" font-style="normal" fill="#505050" text-anchor="start" textLength="31.5" lengthAdjust="spacingAndGlyphs" xml:space="preserve" >900825,14</text>
<text x="218.8" y="617.65" font-family="Liberation Sans" font-size="6.8" font-weight="normal" font-style="normal" fill="#505050" text-anchor="start" textLength="35.0" lengthAdjust="spacingAndGlyphs" xml:space="preserve" >3528385,65</text>
<line x1="151.5" y1="620.4" x2="260.5" y2="620.4" stroke="#8a8a8a" stroke-width="1" />
<text x="154.3" y="628.15" font-family="Liberation Sans" font-size="6.8" font-weight="normal" font-style="normal" fill="#505050" text-anchor="start" xml:space="preserve" >н28</text>
<text x="178.20000000000002" y="628.15" font-family="Liberation Sans" font-size="6.8" font-weight="normal" font-style="normal" fill="#505050" text-anchor="start" textLength="31.5" lengthAdjust="spacingAndGlyphs" xml:space="preserve" >900823,78</text>
<text x="218.8" y="628.15" font-family="Liberation Sans" font-size="6.8" font-weight="normal" font-style="normal" fill="#505050" text-anchor="start" textLength="35.0" lengthAdjust="spacingAndGlyphs" xml:space="preserve" >3528385,23</text>
<line x1="151.5" y1="630.9" x2="260.5" y2="630.9" stroke="#8a8a8a" stroke-width="1" />
<text x="154.3" y="638.65" font-family="Liberation Sans" font-size="6.8" font-weight="normal" font-style="normal" fill="#505050" text-anchor="start" xml:space="preserve" >н29</text>
<text x="178.20000000000002" y="638.65" font-family="Liberation Sans" font-size="6.8" font-weight="normal" font-style="normal" fill="#505050" text-anchor="start" textLength="31.5" lengthAdjust="spacingAndGlyphs" xml:space="preserve" >900822,92</text>
<text x="218.8" y="638.65" font-family="Liberation Sans" font-size="6.8" font-weight="normal" font-style="normal" fill="#505050" text-anchor="start" textLength="35.0" lengthAdjust="spacingAndGlyphs" xml:space="preserve" >3528388,01</text>
<line x1="151.5" y1="641.4" x2="260.5" y2="641.4" stroke="#8a8a8a" stroke-width="1" />
<text x="154.3" y="649.15" font-family="Liberation Sans" font-size="6.8" font-weight="normal" font-style="normal" fill="#505050" text-anchor="start" xml:space="preserve" >н30</text>
<text x="178.20000000000002" y="649.15" font-family="Liberation Sans" font-size="6.8" font-weight="normal" font-style="normal" fill="#505050" text-anchor="start" textLength="31.5" lengthAdjust="spacingAndGlyphs" xml:space="preserve" >900794,09</text>
<text x="218.8" y="649.15" font-family="Liberation Sans" font-size="6.8" font-weight="normal" font-style="normal" fill="#505050" text-anchor="start" textLength="35.0" lengthAdjust="spacingAndGlyphs" xml:space="preserve" >3528379,34</text>
<line x1="151.5" y1="651.9" x2="260.5" y2="651.9" stroke="#8a8a8a" stroke-width="1" />
<text x="154.3" y="659.65" font-family="Liberation Sans" font-size="6.8" font-weight="normal" font-style="normal" fill="#505050" text-anchor="start" xml:space="preserve" >н31</text>
<text x="178.20000000000002" y="659.65" font-family="Liberation Sans" font-size="6.8" font-weight="normal" font-style="normal" fill="#505050" text-anchor="start" textLength="31.5" lengthAdjust="spacingAndGlyphs" xml:space="preserve" >900793,62</text>
<text x="218.8" y="659.65" font-family="Liberation Sans" font-size="6.8" font-weight="normal" font-style="normal" fill="#505050" text-anchor="start" textLength="35.0" lengthAdjust="spacingAndGlyphs" xml:space="preserve" >3528380,87</text>
<line x1="151.5" y1="662.4" x2="260.5" y2="662.4" stroke="#8a8a8a" stroke-width="1" />
<text x="154.3" y="670.15" font-family="Liberation Sans" font-size="6.8" font-weight="normal" font-style="normal" fill="#505050" text-anchor="start" xml:space="preserve" >н32</text>
<text x="178.20000000000002" y="670.15" font-family="Liberation Sans" font-size="6.8" font-weight="normal" font-style="normal" fill="#505050" text-anchor="start" textLength="28.0" lengthAdjust="spacingAndGlyphs" xml:space="preserve" >900823,7</text>
<text x="218.8" y="670.15" font-family="Liberation Sans" font-size="6.8" font-weight="normal" font-style="normal" fill="#505050" text-anchor="start" textLength="35.0" lengthAdjust="spacingAndGlyphs" xml:space="preserve" >3529831,41</text>
<line x1="151.5" y1="672.9" x2="260.5" y2="672.9" stroke="#8a8a8a" stroke-width="1" />
<text x="154.3" y="680.65" font-family="Liberation Sans" font-size="6.8" font-weight="normal" font-style="normal" fill="#505050" text-anchor="start" xml:space="preserve" >н33</text>
<text x="178.20000000000002" y="680.65" font-family="Liberation Sans" font-size="6.8" font-weight="normal" font-style="normal" fill="#505050" text-anchor="start" textLength="31.5" lengthAdjust="spacingAndGlyphs" xml:space="preserve" >900829,07</text>
<text x="218.8" y="680.65" font-family="Liberation Sans" font-size="6.8" font-weight="normal" font-style="normal" fill="#505050" text-anchor="start" textLength="35.0" lengthAdjust="spacingAndGlyphs" xml:space="preserve" >3529828,51</text>
<line x1="151.5" y1="683.4" x2="260.5" y2="683.4" stroke="#8a8a8a" stroke-width="1" />
<text x="154.3" y="691.15" font-family="Liberation Sans" font-size="6.8" font-weight="normal" font-style="normal" fill="#505050" text-anchor="start" xml:space="preserve" >н34</text>
<text x="178.20000000000002" y="691.15" font-family="Liberation Sans" font-size="6.8" font-weight="normal" font-style="normal" fill="#505050" text-anchor="start" textLength="31.5" lengthAdjust="spacingAndGlyphs" xml:space="preserve" >900825,59</text>
<text x="218.8" y="691.15" font-family="Liberation Sans" font-size="6.8" font-weight="normal" font-style="normal" fill="#505050" text-anchor="start" textLength="35.0" lengthAdjust="spacingAndGlyphs" xml:space="preserve" >3529825,13</text>
<line x1="151.5" y1="693.9" x2="260.5" y2="693.9" stroke="#8a8a8a" stroke-width="1" />
<text x="154.3" y="701.65" font-family="Liberation Sans" font-size="6.8" font-weight="normal" font-style="normal" fill="#505050" text-anchor="start" xml:space="preserve" >н35</text>
<text x="178.20000000000002" y="701.65" font-family="Liberation Sans" font-size="6.8" font-weight="normal" font-style="normal" fill="#505050" text-anchor="start" textLength="31.5" lengthAdjust="spacingAndGlyphs" xml:space="preserve" >900821,29</text>
<text x="218.8" y="701.65" font-family="Liberation Sans" font-size="6.8" font-weight="normal" font-style="normal" fill="#505050" text-anchor="start" textLength="35.0" lengthAdjust="spacingAndGlyphs" xml:space="preserve" >3529828,07</text>
<line x1="151.5" y1="704.4" x2="260.5" y2="704.4" stroke="#8a8a8a" stroke-width="1" />
<text x="154.3" y="712.15" font-family="Liberation Sans" font-size="6.8" font-weight="normal" font-style="normal" fill="#505050" text-anchor="start" xml:space="preserve" >н36</text>
<text x="178.20000000000002" y="712.15" font-family="Liberation Sans" font-size="6.8" font-weight="normal" font-style="normal" fill="#505050" text-anchor="start" textLength="31.5" lengthAdjust="spacingAndGlyphs" xml:space="preserve" >900849,96</text>
<text x="218.8" y="712.15" font-family="Liberation Sans" font-size="6.8" font-weight="normal" font-style="normal" fill="#505050" text-anchor="start" textLength="35.0" lengthAdjust="spacingAndGlyphs" xml:space="preserve" >3529851,31</text>
<line x1="151.5" y1="714.9" x2="260.5" y2="714.9" stroke="#8a8a8a" stroke-width="1" />
<text x="154.3" y="722.65" font-family="Liberation Sans" font-size="6.8" font-weight="normal" font-style="normal" fill="#505050" text-anchor="start" xml:space="preserve" >н37</text>
<text x="178.20000000000002" y="722.65" font-family="Liberation Sans" font-size="6.8" font-weight="normal" font-style="normal" fill="#505050" text-anchor="start" textLength="31.5" lengthAdjust="spacingAndGlyphs" xml:space="preserve" >900854,94</text>
<text x="218.8" y="722.65" font-family="Liberation Sans" font-size="6.8" font-weight="normal" font-style="normal" fill="#505050" text-anchor="start" textLength="35.0" lengthAdjust="spacingAndGlyphs" xml:space="preserve" >3529848,51</text>
<line x1="151.5" y1="725.4" x2="260.5" y2="725.4" stroke="#8a8a8a" stroke-width="1" />
<text x="154.3" y="733.15" font-family="Liberation Sans" font-size="6.8" font-weight="normal" font-style="normal" fill="#505050" text-anchor="start" xml:space="preserve" >н38</text>
<text x="178.20000000000002" y="733.15" font-family="Liberation Sans" font-size="6.8" font-weight="normal" font-style="normal" fill="#505050" text-anchor="start" textLength="31.5" lengthAdjust="spacingAndGlyphs" xml:space="preserve" >900840,29</text>
<text x="218.8" y="733.15" font-family="Liberation Sans" font-size="6.8" font-weight="normal" font-style="normal" fill="#505050" text-anchor="start" textLength="35.0" lengthAdjust="spacingAndGlyphs" xml:space="preserve" >3529822,56</text>
<line x1="151.5" y1="735.9" x2="260.5" y2="735.9" stroke="#8a8a8a" stroke-width="1" />
<text x="154.3" y="743.65" font-family="Liberation Sans" font-size="6.8" font-weight="normal" font-style="normal" fill="#505050" text-anchor="start" xml:space="preserve" >н39</text>
<text x="178.20000000000002" y="743.65" font-family="Liberation Sans" font-size="6.8" font-weight="normal" font-style="normal" fill="#505050" text-anchor="start" textLength="31.5" lengthAdjust="spacingAndGlyphs" xml:space="preserve" >900838,65</text>
<text x="218.8" y="743.65" font-family="Liberation Sans" font-size="6.8" font-weight="normal" font-style="normal" fill="#505050" text-anchor="start" textLength="35.0" lengthAdjust="spacingAndGlyphs" xml:space="preserve" >3529823,38</text>
<line x1="151.5" y1="746.4" x2="260.5" y2="746.4" stroke="#8a8a8a" stroke-width="1" />
<text x="154.3" y="754.15" font-family="Liberation Sans" font-size="6.8" font-weight="normal" font-style="normal" fill="#505050" text-anchor="start" xml:space="preserve" >н40</text>
<text x="178.20000000000002" y="754.15" font-family="Liberation Sans" font-size="6.8" font-weight="normal" font-style="normal" fill="#505050" text-anchor="start" textLength="31.5" lengthAdjust="spacingAndGlyphs" xml:space="preserve" >900851,78</text>
<text x="218.8" y="754.15" font-family="Liberation Sans" font-size="6.8" font-weight="normal" font-style="normal" fill="#505050" text-anchor="start" textLength="31.5" lengthAdjust="spacingAndGlyphs" xml:space="preserve" >3529848,5</text>
<rect x="260.6" y="512.25" width="108.19999999999999" height="9.649999999999977" fill="none" stroke="#8a8a8a" stroke-width="1"/>
<line x1="284.4" y1="512.25" x2="284.4" y2="521.9" stroke="#666" stroke-width="1.2" />
<line x1="324.5" y1="512.25" x2="324.5" y2="521.9" stroke="#666" stroke-width="1.2" />
<text x="263.1" y="519.9" font-family="Liberation Sans" font-size="6.6" font-weight="bold" font-style="normal" fill="#3a3a3a" text-anchor="start" textLength="19.799999999999955" lengthAdjust="spacingAndGlyphs" xml:space="preserve" >Номер</text>
<text x="286.9" y="519.9" font-family="Liberation Sans" font-size="6.6" font-weight="bold" font-style="normal" fill="#3a3a3a" text-anchor="start" xml:space="preserve" >X</text>
<text x="327.0" y="519.9" font-family="Liberation Sans" font-size="6.6" font-weight="bold" font-style="normal" fill="#3a3a3a" text-anchor="start" xml:space="preserve" >Y</text>
<rect x="260.6" y="525.25" width="108.19999999999999" height="231.22000000000003" fill="none" stroke="#8a8a8a" stroke-width="1"/>
<line x1="284.4" y1="525.25" x2="284.4" y2="756.47" stroke="#777" stroke-width="1" />
<line x1="324.5" y1="525.25" x2="324.5" y2="756.47" stroke="#777" stroke-width="1" />
<text x="263.40000000000003" y="533.005" font-family="Liberation Sans" font-size="6.8" font-weight="normal" font-style="normal" fill="#505050" text-anchor="start" xml:space="preserve" >н41</text>
<text x="287.2" y="533.005" font-family="Liberation Sans" font-size="6.8" font-weight="normal" font-style="normal" fill="#505050" text-anchor="start" textLength="28.0" lengthAdjust="spacingAndGlyphs" xml:space="preserve" >900849,2</text>
<text x="327.3" y="533.005" font-family="Liberation Sans" font-size="6.8" font-weight="normal" font-style="normal" fill="#505050" text-anchor="start" textLength="35.0" lengthAdjust="spacingAndGlyphs" xml:space="preserve" >3529850,12</text>
<line x1="260.6" y1="535.76" x2="368.8" y2="535.76" stroke="#8a8a8a" stroke-width="1" />
<text x="263.40000000000003" y="543.515" font-family="Liberation Sans" font-size="6.8" font-weight="normal" font-style="normal" fill="#505050" text-anchor="start" xml:space="preserve" >н42</text>
<text x="287.2" y="543.515" font-family="Liberation Sans" font-size="6.8" font-weight="normal" font-style="normal" fill="#505050" text-anchor="start" textLength="31.5" lengthAdjust="spacingAndGlyphs" xml:space="preserve" >900829,67</text>
<text x="327.3" y="543.515" font-family="Liberation Sans" font-size="6.8" font-weight="normal" font-style="normal" fill="#505050" text-anchor="start" textLength="35.0" lengthAdjust="spacingAndGlyphs" xml:space="preserve" >3529860,98</text>
<line x1="260.6" y1="546.27" x2="368.8" y2="546.27" stroke="#8a8a8a" stroke-width="1" />
<text x="263.40000000000003" y="554.025" font-family="Liberation Sans" font-size="6.8" font-weight="normal" font-style="normal" fill="#505050" text-anchor="start" xml:space="preserve" >н43</text>
<text x="287.2" y="554.025" font-family="Liberation Sans" font-size="6.8" font-weight="normal" font-style="normal" fill="#505050" text-anchor="start" textLength="31.5" lengthAdjust="spacingAndGlyphs" xml:space="preserve" >900846,43</text>
<text x="327.3" y="554.025" font-family="Liberation Sans" font-size="6.8" font-weight="normal" font-style="normal" fill="#505050" text-anchor="start" textLength="31.5" lengthAdjust="spacingAndGlyphs" xml:space="preserve" >3529853,4</text>
<line x1="260.6" y1="556.78" x2="368.8" y2="556.78" stroke="#8a8a8a" stroke-width="1" />
<text x="263.40000000000003" y="564.535" font-family="Liberation Sans" font-size="6.8" font-weight="normal" font-style="normal" fill="#505050" text-anchor="start" xml:space="preserve" >н44</text>
<text x="287.2" y="564.535" font-family="Liberation Sans" font-size="6.8" font-weight="normal" font-style="normal" fill="#505050" text-anchor="start" textLength="31.5" lengthAdjust="spacingAndGlyphs" xml:space="preserve" >900846,44</text>
<text x="327.3" y="564.535" font-family="Liberation Sans" font-size="6.8" font-weight="normal" font-style="normal" fill="#505050" text-anchor="start" textLength="35.0" lengthAdjust="spacingAndGlyphs" xml:space="preserve" >3529853,39</text>
<line x1="260.6" y1="567.29" x2="368.8" y2="567.29" stroke="#8a8a8a" stroke-width="1" />
<text x="263.40000000000003" y="575.045" font-family="Liberation Sans" font-size="6.8" font-weight="normal" font-style="normal" fill="#505050" text-anchor="start" xml:space="preserve" >н45</text>
<text x="287.2" y="575.045" font-family="Liberation Sans" font-size="6.8" font-weight="normal" font-style="normal" fill="#505050" text-anchor="start" textLength="31.5" lengthAdjust="spacingAndGlyphs" xml:space="preserve" >900845,61</text>
<text x="327.3" y="575.045" font-family="Liberation Sans" font-size="6.8" font-weight="normal" font-style="normal" fill="#505050" text-anchor="start" textLength="35.0" lengthAdjust="spacingAndGlyphs" xml:space="preserve" >3529852,25</text>
<line x1="260.6" y1="577.8" x2="368.8" y2="577.8" stroke="#8a8a8a" stroke-width="1" />
<text x="263.40000000000003" y="585.555" font-family="Liberation Sans" font-size="6.8" font-weight="normal" font-style="normal" fill="#505050" text-anchor="start" xml:space="preserve" >н46</text>
<text x="287.2" y="585.555" font-family="Liberation Sans" font-size="6.8" font-weight="normal" font-style="normal" fill="#505050" text-anchor="start" textLength="28.0" lengthAdjust="spacingAndGlyphs" xml:space="preserve" >900877,6</text>
<text x="327.3" y="585.555" font-family="Liberation Sans" font-size="6.8" font-weight="normal" font-style="normal" fill="#505050" text-anchor="start" textLength="31.5" lengthAdjust="spacingAndGlyphs" xml:space="preserve" >3529938,9</text>
<line x1="260.6" y1="588.31" x2="368.8" y2="588.31" stroke="#8a8a8a" stroke-width="1" />
<text x="263.40000000000003" y="596.0649999999999" font-family="Liberation Sans" font-size="6.8" font-weight="normal" font-style="normal" fill="#505050" text-anchor="start" xml:space="preserve" >н47</text>
<text x="287.2" y="596.0649999999999" font-family="Liberation Sans" font-size="6.8" font-weight="normal" font-style="normal" fill="#505050" text-anchor="start" textLength="31.5" lengthAdjust="spacingAndGlyphs" xml:space="preserve" >900877,63</text>
<text x="327.3" y="596.0649999999999" font-family="Liberation Sans" font-size="6.8" font-weight="normal" font-style="normal" fill="#505050" text-anchor="start" textLength="31.5" lengthAdjust="spacingAndGlyphs" xml:space="preserve" >3529937,5</text>
<line x1="260.6" y1="598.8199999999999" x2="368.8" y2="598.8199999999999" stroke="#8a8a8a" stroke-width="1" />
<text x="263.40000000000003" y="606.5749999999999" font-family="Liberation Sans" font-size="6.8" font-weight="normal" font-style="normal" fill="#505050" text-anchor="start" xml:space="preserve" >н48</text>
<text x="287.2" y="606.5749999999999" font-family="Liberation Sans" font-size="6.8" font-weight="normal" font-style="normal" fill="#505050" text-anchor="start" textLength="31.5" lengthAdjust="spacingAndGlyphs" xml:space="preserve" >900877,55</text>
<text x="327.3" y="606.5749999999999" font-family="Liberation Sans" font-size="6.8" font-weight="normal" font-style="normal" fill="#505050" text-anchor="start" textLength="35.0" lengthAdjust="spacingAndGlyphs" xml:space="preserve" >3529937,49</text>
<line x1="260.6" y1="609.33" x2="368.8" y2="609.33" stroke="#8a8a8a" stroke-width="1" />
<text x="263.40000000000003" y="617.085" font-family="Liberation Sans" font-size="6.8" font-weight="normal" font-style="normal" fill="#505050" text-anchor="start" xml:space="preserve" >н49</text>
<text x="287.2" y="617.085" font-family="Liberation Sans" font-size="6.8" font-weight="normal" font-style="normal" fill="#505050" text-anchor="start" textLength="31.5" lengthAdjust="spacingAndGlyphs" xml:space="preserve" >900859,65</text>
<text x="327.3" y="617.085" font-family="Liberation Sans" font-size="6.8" font-weight="normal" font-style="normal" fill="#505050" text-anchor="start" textLength="35.0" lengthAdjust="spacingAndGlyphs" xml:space="preserve" >3529936,44</text>
<line x1="260.6" y1="619.84" x2="368.8" y2="619.84" stroke="#8a8a8a" stroke-width="1" />
<text x="263.40000000000003" y="627.595" font-family="Liberation Sans" font-size="6.8" font-weight="normal" font-style="normal" fill="#505050" text-anchor="start" xml:space="preserve" >н50</text>
<text x="287.2" y="627.595" font-family="Liberation Sans" font-size="6.8" font-weight="normal" font-style="normal" fill="#505050" text-anchor="start" textLength="31.5" lengthAdjust="spacingAndGlyphs" xml:space="preserve" >900883,11</text>
<text x="327.3" y="627.595" font-family="Liberation Sans" font-size="6.8" font-weight="normal" font-style="normal" fill="#505050" text-anchor="start" textLength="35.0" lengthAdjust="spacingAndGlyphs" xml:space="preserve" >3529966,89</text>
<line x1="260.6" y1="630.35" x2="368.8" y2="630.35" stroke="#8a8a8a" stroke-width="1" />
<text x="263.40000000000003" y="638.105" font-family="Liberation Sans" font-size="6.8" font-weight="normal" font-style="normal" fill="#505050" text-anchor="start" xml:space="preserve" >н51</text>
<text x="287.2" y="638.105" font-family="Liberation Sans" font-size="6.8" font-weight="normal" font-style="normal" fill="#505050" text-anchor="start" textLength="31.5" lengthAdjust="spacingAndGlyphs" xml:space="preserve" >900889,84</text>
<text x="327.3" y="638.105" font-family="Liberation Sans" font-size="6.8" font-weight="normal" font-style="normal" fill="#505050" text-anchor="start" textLength="35.0" lengthAdjust="spacingAndGlyphs" xml:space="preserve" >3529966,16</text>
<line x1="260.6" y1="640.86" x2="368.8" y2="640.86" stroke="#8a8a8a" stroke-width="1" />
<text x="263.40000000000003" y="648.615" font-family="Liberation Sans" font-size="6.8" font-weight="normal" font-style="normal" fill="#505050" text-anchor="start" xml:space="preserve" >н52</text>
<text x="287.2" y="648.615" font-family="Liberation Sans" font-size="6.8" font-weight="normal" font-style="normal" fill="#505050" text-anchor="start" textLength="31.5" lengthAdjust="spacingAndGlyphs" xml:space="preserve" >900889,87</text>
<text x="327.3" y="648.615" font-family="Liberation Sans" font-size="6.8" font-weight="normal" font-style="normal" fill="#505050" text-anchor="start" textLength="35.0" lengthAdjust="spacingAndGlyphs" xml:space="preserve" >3529966,16</text>
<line x1="260.6" y1="651.37" x2="368.8" y2="651.37" stroke="#8a8a8a" stroke-width="1" />
<text x="263.40000000000003" y="659.125" font-family="Liberation Sans" font-size="6.8" font-weight="normal" font-style="normal" fill="#505050" text-anchor="start" xml:space="preserve" >н53</text>
<text x="287.2" y="659.125" font-family="Liberation Sans" font-size="6.8" font-weight="normal" font-style="normal" fill="#505050" text-anchor="start" textLength="31.5" lengthAdjust="spacingAndGlyphs" xml:space="preserve" >900890,17</text>
<text x="327.3" y="659.125" font-family="Liberation Sans" font-size="6.8" font-weight="normal" font-style="normal" fill="#505050" text-anchor="start" textLength="35.0" lengthAdjust="spacingAndGlyphs" xml:space="preserve" >3529932,57</text>
<line x1="260.6" y1="661.88" x2="368.8" y2="661.88" stroke="#8a8a8a" stroke-width="1" />
<text x="263.40000000000003" y="669.635" font-family="Liberation Sans" font-size="6.8" font-weight="normal" font-style="normal" fill="#505050" text-anchor="start" xml:space="preserve" >н54</text>
<text x="287.2" y="669.635" font-family="Liberation Sans" font-size="6.8" font-weight="normal" font-style="normal" fill="#505050" text-anchor="start" textLength="31.5" lengthAdjust="spacingAndGlyphs" xml:space="preserve" >900890,05</text>
<text x="327.3" y="669.635" font-family="Liberation Sans" font-size="6.8" font-weight="normal" font-style="normal" fill="#505050" text-anchor="start" textLength="35.0" lengthAdjust="spacingAndGlyphs" xml:space="preserve" >3529932,58</text>
<line x1="260.6" y1="672.39" x2="368.8" y2="672.39" stroke="#8a8a8a" stroke-width="1" />
<text x="263.40000000000003" y="680.145" font-family="Liberation Sans" font-size="6.8" font-weight="normal" font-style="normal" fill="#505050" text-anchor="start" xml:space="preserve" >н55</text>
<text x="287.2" y="680.145" font-family="Liberation Sans" font-size="6.8" font-weight="normal" font-style="normal" fill="#505050" text-anchor="start" textLength="31.5" lengthAdjust="spacingAndGlyphs" xml:space="preserve" >900881,68</text>
<text x="327.3" y="680.145" font-family="Liberation Sans" font-size="6.8" font-weight="normal" font-style="normal" fill="#505050" text-anchor="start" textLength="35.0" lengthAdjust="spacingAndGlyphs" xml:space="preserve" >3529934,19</text>
<line x1="260.6" y1="682.9" x2="368.8" y2="682.9" stroke="#8a8a8a" stroke-width="1" />
<text x="263.40000000000003" y="690.655" font-family="Liberation Sans" font-size="6.8" font-weight="normal" font-style="normal" fill="#505050" text-anchor="start" xml:space="preserve" >н56</text>
<text x="287.2" y="690.655" font-family="Liberation Sans" font-size="6.8" font-weight="normal" font-style="normal" fill="#505050" text-anchor="start" textLength="31.5" lengthAdjust="spacingAndGlyphs" xml:space="preserve" >900881,59</text>
<text x="327.3" y="690.655" font-family="Liberation Sans" font-size="6.8" font-weight="normal" font-style="normal" fill="#505050" text-anchor="start" textLength="35.0" lengthAdjust="spacingAndGlyphs" xml:space="preserve" >3529938,89</text>
<line x1="260.6" y1="693.41" x2="368.8" y2="693.41" stroke="#8a8a8a" stroke-width="1" />
<text x="263.40000000000003" y="701.165" font-family="Liberation Sans" font-size="6.8" font-weight="normal" font-style="normal" fill="#505050" text-anchor="start" xml:space="preserve" >н57</text>
<text x="287.2" y="701.165" font-family="Liberation Sans" font-size="6.8" font-weight="normal" font-style="normal" fill="#505050" text-anchor="start" textLength="28.0" lengthAdjust="spacingAndGlyphs" xml:space="preserve" >900881,6</text>
<text x="327.3" y="701.165" font-family="Liberation Sans" font-size="6.8" font-weight="normal" font-style="normal" fill="#505050" text-anchor="start" textLength="35.0" lengthAdjust="spacingAndGlyphs" xml:space="preserve" >3529938,89</text>
<line x1="260.6" y1="703.92" x2="368.8" y2="703.92" stroke="#8a8a8a" stroke-width="1" />
<text x="263.40000000000003" y="711.675" font-family="Liberation Sans" font-size="6.8" font-weight="normal" font-style="normal" fill="#505050" text-anchor="start" xml:space="preserve" >н58</text>
<text x="287.2" y="711.675" font-family="Liberation Sans" font-size="6.8" font-weight="normal" font-style="normal" fill="#505050" text-anchor="start" textLength="31.5" lengthAdjust="spacingAndGlyphs" xml:space="preserve" >900883,69</text>
<text x="327.3" y="711.675" font-family="Liberation Sans" font-size="6.8" font-weight="normal" font-style="normal" fill="#505050" text-anchor="start" textLength="35.0" lengthAdjust="spacingAndGlyphs" xml:space="preserve" >3529938,94</text>
<line x1="260.6" y1="714.4300000000001" x2="368.8" y2="714.4300000000001" stroke="#8a8a8a" stroke-width="1" />
<text x="263.40000000000003" y="722.1850000000001" font-family="Liberation Sans" font-size="6.8" font-weight="normal" font-style="normal" fill="#505050" text-anchor="start" xml:space="preserve" >н59</text>
<text x="287.2" y="722.1850000000001" font-family="Liberation Sans" font-size="6.8" font-weight="normal" font-style="normal" fill="#505050" text-anchor="start" textLength="31.5" lengthAdjust="spacingAndGlyphs" xml:space="preserve" >900511,26</text>
<text x="327.3" y="722.1850000000001" font-family="Liberation Sans" font-size="6.8" font-weight="normal" font-style="normal" fill="#505050" text-anchor="start" textLength="35.0" lengthAdjust="spacingAndGlyphs" xml:space="preserve" >3530409,44</text>
<line x1="260.6" y1="724.94" x2="368.8" y2="724.94" stroke="#8a8a8a" stroke-width="1" />
<text x="263.40000000000003" y="732.695" font-family="Liberation Sans" font-size="6.8" font-weight="normal" font-style="normal" fill="#505050" text-anchor="start" xml:space="preserve" >н60</text>
<text x="287.2" y="732.695" font-family="Liberation Sans" font-size="6.8" font-weight="normal" font-style="normal" fill="#505050" text-anchor="start" textLength="31.5" lengthAdjust="spacingAndGlyphs" xml:space="preserve" >900526,42</text>
<text x="327.3" y="732.695" font-family="Liberation Sans" font-size="6.8" font-weight="normal" font-style="normal" fill="#505050" text-anchor="start" textLength="35.0" lengthAdjust="spacingAndGlyphs" xml:space="preserve" >3530402,58</text>
<line x1="260.6" y1="735.45" x2="368.8" y2="735.45" stroke="#8a8a8a" stroke-width="1" />
<text x="263.40000000000003" y="743.205" font-family="Liberation Sans" font-size="6.8" font-weight="normal" font-style="normal" fill="#505050" text-anchor="start" xml:space="preserve" >н61</text>
<text x="287.2" y="743.205" font-family="Liberation Sans" font-size="6.8" font-weight="normal" font-style="normal" fill="#505050" text-anchor="start" textLength="31.5" lengthAdjust="spacingAndGlyphs" xml:space="preserve" >900524,45</text>
<text x="327.3" y="743.205" font-family="Liberation Sans" font-size="6.8" font-weight="normal" font-style="normal" fill="#505050" text-anchor="start" textLength="35.0" lengthAdjust="spacingAndGlyphs" xml:space="preserve" >3530400,61</text>
<line x1="260.6" y1="745.96" x2="368.8" y2="745.96" stroke="#8a8a8a" stroke-width="1" />
<text x="263.40000000000003" y="753.715" font-family="Liberation Sans" font-size="6.8" font-weight="normal" font-style="normal" fill="#505050" text-anchor="start" xml:space="preserve" >н62</text>
<text x="287.2" y="753.715" font-family="Liberation Sans" font-size="6.8" font-weight="normal" font-style="normal" fill="#505050" text-anchor="start" textLength="31.5" lengthAdjust="spacingAndGlyphs" xml:space="preserve" >900510,52</text>
<text x="327.3" y="753.715" font-family="Liberation Sans" font-size="6.8" font-weight="normal" font-style="normal" fill="#505050" text-anchor="start" textLength="35.0" lengthAdjust="spacingAndGlyphs" xml:space="preserve" >3530407,75</text>
<text x="170.5" y="513.6" font-family="Liberation Serif" font-size="8.5" font-weight="bold" font-style="italic" fill="#606060" text-anchor="start" textLength="67.8" lengthAdjust="spacingAndGlyphs" xml:space="preserve" >Каталог координат</text>
<text x="158.4" y="521.6" font-family="Liberation Serif" font-size="8.5" font-weight="bold" font-style="italic" fill="#606060" text-anchor="start" textLength="90.9" lengthAdjust="spacingAndGlyphs" xml:space="preserve" >границ земельного участка</text>
<text x="170.5" y="530" font-family="Liberation Serif" font-size="8.5" font-weight="bold" font-style="italic" fill="#606060" text-anchor="start" textLength="66.7" lengthAdjust="spacingAndGlyphs" xml:space="preserve" >86:08:0030702:ЗУ10</text>
</svg>
</body></html>
